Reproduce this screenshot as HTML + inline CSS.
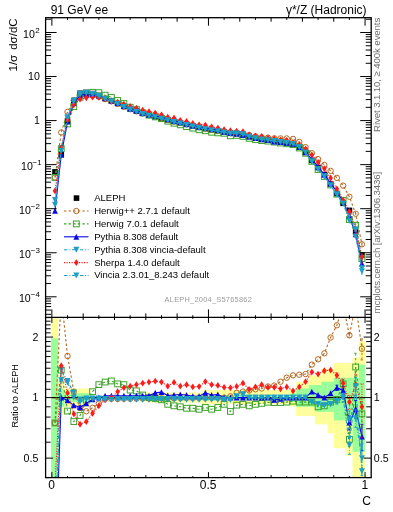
<!DOCTYPE html><html><head><meta charset="utf-8"><style>html,body{margin:0;padding:0;background:#fff;width:393px;height:512px;overflow:hidden}svg{display:block}text{font-family:"Liberation Sans",sans-serif}svg{will-change:transform}</style></head><body>
<svg width="393" height="512" viewBox="0 0 393 512">
<defs><clipPath id="cm"><rect x="45.6" y="17.7" width="325.6" height="299.7"/></clipPath><clipPath id="cr"><rect x="45.6" y="317.4" width="325.6" height="160.2"/></clipPath></defs>
<g clip-path="url(#cr)">
<rect x="51" y="196.6" width="7.18" height="603" fill="#ffff99"/>
<rect x="58.13" y="381.68" width="6.31" height="33.24" fill="#ffff99"/>
<rect x="64.39" y="388.49" width="6.31" height="18.31" fill="#ffff99"/>
<rect x="70.66" y="388.49" width="6.31" height="18.31" fill="#ffff99"/>
<rect x="76.92" y="388.49" width="6.31" height="18.31" fill="#ffff99"/>
<rect x="83.18" y="388.49" width="6.31" height="18.31" fill="#ffff99"/>
<rect x="89.45" y="395.44" width="6.31" height="4.37" fill="#ffff99"/>
<rect x="95.71" y="395.44" width="6.31" height="4.37" fill="#ffff99"/>
<rect x="101.98" y="395.44" width="6.31" height="4.37" fill="#ffff99"/>
<rect x="108.24" y="395.44" width="6.31" height="4.37" fill="#ffff99"/>
<rect x="114.5" y="395.44" width="6.31" height="4.37" fill="#ffff99"/>
<rect x="120.77" y="395.44" width="6.31" height="4.37" fill="#ffff99"/>
<rect x="127.03" y="395.44" width="6.31" height="4.37" fill="#ffff99"/>
<rect x="133.3" y="395.44" width="6.31" height="4.37" fill="#ffff99"/>
<rect x="139.56" y="395.44" width="6.31" height="4.37" fill="#ffff99"/>
<rect x="145.82" y="392.51" width="6.31" height="10.02" fill="#ffff99"/>
<rect x="152.09" y="392.51" width="6.31" height="10.02" fill="#ffff99"/>
<rect x="158.35" y="392.51" width="6.31" height="10.02" fill="#ffff99"/>
<rect x="164.62" y="392.51" width="6.31" height="10.02" fill="#ffff99"/>
<rect x="170.88" y="392.51" width="6.31" height="10.02" fill="#ffff99"/>
<rect x="177.14" y="392.51" width="6.31" height="10.02" fill="#ffff99"/>
<rect x="183.41" y="392.51" width="6.31" height="10.02" fill="#ffff99"/>
<rect x="189.67" y="392.51" width="6.31" height="10.02" fill="#ffff99"/>
<rect x="195.94" y="392.51" width="6.31" height="10.02" fill="#ffff99"/>
<rect x="202.2" y="390.08" width="6.31" height="13.86" fill="#ffff99"/>
<rect x="208.46" y="390.08" width="6.31" height="13.86" fill="#ffff99"/>
<rect x="214.73" y="390.08" width="6.31" height="13.86" fill="#ffff99"/>
<rect x="220.99" y="390.08" width="6.31" height="13.86" fill="#ffff99"/>
<rect x="227.26" y="390.08" width="6.31" height="13.86" fill="#ffff99"/>
<rect x="233.52" y="390.08" width="6.31" height="13.86" fill="#ffff99"/>
<rect x="239.78" y="390.08" width="6.31" height="13.86" fill="#ffff99"/>
<rect x="246.05" y="390.08" width="6.31" height="13.86" fill="#ffff99"/>
<rect x="252.31" y="390.08" width="6.31" height="13.86" fill="#ffff99"/>
<rect x="258.58" y="390.08" width="6.31" height="13.86" fill="#ffff99"/>
<rect x="264.84" y="390.08" width="6.31" height="13.86" fill="#ffff99"/>
<rect x="271.1" y="390.08" width="6.31" height="13.86" fill="#ffff99"/>
<rect x="277.37" y="390.08" width="6.31" height="13.86" fill="#ffff99"/>
<rect x="283.63" y="390.08" width="6.31" height="13.86" fill="#ffff99"/>
<rect x="289.9" y="389.28" width="6.31" height="17.13" fill="#ffff99"/>
<rect x="296.16" y="381.83" width="6.31" height="34.16" fill="#ffff99"/>
<rect x="302.42" y="381.83" width="6.31" height="34.16" fill="#ffff99"/>
<rect x="308.69" y="375.37" width="6.31" height="40.62" fill="#ffff99"/>
<rect x="314.95" y="375.37" width="6.31" height="48.99" fill="#ffff99"/>
<rect x="321.22" y="369.17" width="6.31" height="55.19" fill="#ffff99"/>
<rect x="327.48" y="369.17" width="6.31" height="64.04" fill="#ffff99"/>
<rect x="333.74" y="362.97" width="6.31" height="85.25" fill="#ffff99"/>
<rect x="340.01" y="362.97" width="6.31" height="85.25" fill="#ffff99"/>
<rect x="346.27" y="362.97" width="6.31" height="92.9" fill="#ffff99"/>
<rect x="352.54" y="357.67" width="6.31" height="145.03" fill="#ffff99"/>
<rect x="358.8" y="341.57" width="6.31" height="458.03" fill="#ffff99"/>
<rect x="51" y="338.41" width="7.18" height="461.19" fill="#99ff99"/>
<rect x="58.13" y="389.28" width="6.31" height="17.52" fill="#99ff99"/>
<rect x="64.39" y="393.34" width="6.31" height="8.74" fill="#99ff99"/>
<rect x="70.66" y="393.34" width="6.31" height="8.74" fill="#99ff99"/>
<rect x="76.92" y="393.34" width="6.31" height="8.74" fill="#99ff99"/>
<rect x="83.18" y="393.34" width="6.31" height="8.74" fill="#99ff99"/>
<rect x="89.45" y="396.73" width="6.31" height="1.75" fill="#99ff99"/>
<rect x="95.71" y="396.73" width="6.31" height="1.75" fill="#99ff99"/>
<rect x="101.98" y="396.73" width="6.31" height="1.75" fill="#99ff99"/>
<rect x="108.24" y="396.73" width="6.31" height="1.75" fill="#99ff99"/>
<rect x="114.5" y="396.73" width="6.31" height="1.75" fill="#99ff99"/>
<rect x="120.77" y="396.73" width="6.31" height="1.75" fill="#99ff99"/>
<rect x="127.03" y="396.73" width="6.31" height="1.75" fill="#99ff99"/>
<rect x="133.3" y="396.73" width="6.31" height="1.75" fill="#99ff99"/>
<rect x="139.56" y="396.73" width="6.31" height="1.75" fill="#99ff99"/>
<rect x="145.82" y="395.87" width="6.31" height="3.49" fill="#99ff99"/>
<rect x="152.09" y="395.87" width="6.31" height="3.49" fill="#99ff99"/>
<rect x="158.35" y="395.87" width="6.31" height="3.49" fill="#99ff99"/>
<rect x="164.62" y="395.87" width="6.31" height="3.49" fill="#99ff99"/>
<rect x="170.88" y="395.87" width="6.31" height="3.49" fill="#99ff99"/>
<rect x="177.14" y="395.87" width="6.31" height="3.49" fill="#99ff99"/>
<rect x="183.41" y="395.87" width="6.31" height="3.49" fill="#99ff99"/>
<rect x="189.67" y="395.87" width="6.31" height="3.49" fill="#99ff99"/>
<rect x="195.94" y="395.87" width="6.31" height="3.49" fill="#99ff99"/>
<rect x="202.2" y="395.02" width="6.31" height="5.24" fill="#99ff99"/>
<rect x="208.46" y="395.02" width="6.31" height="5.24" fill="#99ff99"/>
<rect x="214.73" y="395.02" width="6.31" height="5.24" fill="#99ff99"/>
<rect x="220.99" y="395.02" width="6.31" height="5.24" fill="#99ff99"/>
<rect x="227.26" y="395.02" width="6.31" height="5.24" fill="#99ff99"/>
<rect x="233.52" y="395.02" width="6.31" height="5.24" fill="#99ff99"/>
<rect x="239.78" y="395.02" width="6.31" height="5.24" fill="#99ff99"/>
<rect x="246.05" y="395.02" width="6.31" height="5.24" fill="#99ff99"/>
<rect x="252.31" y="395.02" width="6.31" height="5.24" fill="#99ff99"/>
<rect x="258.58" y="395.02" width="6.31" height="5.24" fill="#99ff99"/>
<rect x="264.84" y="395.02" width="6.31" height="5.24" fill="#99ff99"/>
<rect x="271.1" y="395.02" width="6.31" height="5.24" fill="#99ff99"/>
<rect x="277.37" y="395.02" width="6.31" height="5.24" fill="#99ff99"/>
<rect x="283.63" y="395.02" width="6.31" height="5.24" fill="#99ff99"/>
<rect x="289.9" y="393.34" width="6.31" height="8.74" fill="#99ff99"/>
<rect x="296.16" y="388.49" width="6.31" height="18.31" fill="#99ff99"/>
<rect x="302.42" y="388.49" width="6.31" height="18.31" fill="#99ff99"/>
<rect x="308.69" y="385.02" width="6.31" height="21.78" fill="#99ff99"/>
<rect x="314.95" y="385.02" width="6.31" height="26.77" fill="#99ff99"/>
<rect x="321.22" y="381.68" width="6.31" height="30.1" fill="#99ff99"/>
<rect x="327.48" y="381.68" width="6.31" height="30.1" fill="#99ff99"/>
<rect x="333.74" y="377.7" width="6.31" height="42.71" fill="#99ff99"/>
<rect x="340.01" y="377.7" width="6.31" height="42.71" fill="#99ff99"/>
<rect x="346.27" y="377.7" width="6.31" height="42.71" fill="#99ff99"/>
<rect x="352.54" y="377.7" width="6.31" height="74.17" fill="#99ff99"/>
<rect x="358.8" y="364.57" width="6.31" height="87.31" fill="#99ff99"/>
<line x1="51.86" y1="397.6" x2="365.06" y2="397.6" stroke="#000" stroke-width="1.4"/>
<polyline points="55,422.95 61.26,296.06 67.52,356.03 73.79,391.69 80.05,407.97 86.32,411.27 92.58,407.77 98.84,403.47 105.11,398.92 111.37,398.92 117.64,398.92 123.9,398.83 130.16,398.74 136.43,398.65 142.69,398.57 148.96,398.48 155.22,398.4 161.48,398.33 167.75,398.26 174.01,398.18 180.28,398.11 186.54,398.04 192.8,397.96 199.07,397.89 205.33,397.82 211.6,397.75 217.86,397.67 224.12,397.6 230.39,396.3 236.65,392.84 242.92,391.53 249.18,390.48 255.44,389.28 261.71,388.49 267.97,386.47 274.24,385.55 280.5,381.68 286.76,377.7 293.03,375.37 299.29,374.7 305.56,374.03 311.82,364.57 318.08,359.34 324.35,353.36 330.61,337.53 336.88,325.27 343.14,304.66 349.4,335.36 355.67,304.66 361.93,348.75" fill="none" stroke="#b5651d" stroke-width="1.1" stroke-dasharray="2.4 2.2"/>
<circle cx="55" cy="422.95" r="2.7" fill="none" stroke="#b5651d" stroke-width="1.0"/>
<circle cx="61.26" cy="296.06" r="2.7" fill="none" stroke="#b5651d" stroke-width="1.0"/>
<circle cx="67.52" cy="356.03" r="2.7" fill="none" stroke="#b5651d" stroke-width="1.0"/>
<circle cx="73.79" cy="391.69" r="2.7" fill="none" stroke="#b5651d" stroke-width="1.0"/>
<circle cx="80.05" cy="407.97" r="2.7" fill="none" stroke="#b5651d" stroke-width="1.0"/>
<circle cx="86.32" cy="411.27" r="2.7" fill="none" stroke="#b5651d" stroke-width="1.0"/>
<circle cx="92.58" cy="407.77" r="2.7" fill="none" stroke="#b5651d" stroke-width="1.0"/>
<circle cx="98.84" cy="403.47" r="2.7" fill="none" stroke="#b5651d" stroke-width="1.0"/>
<circle cx="105.11" cy="398.92" r="2.7" fill="none" stroke="#b5651d" stroke-width="1.0"/>
<circle cx="111.37" cy="398.92" r="2.7" fill="none" stroke="#b5651d" stroke-width="1.0"/>
<circle cx="117.64" cy="398.92" r="2.7" fill="none" stroke="#b5651d" stroke-width="1.0"/>
<circle cx="123.9" cy="398.83" r="2.7" fill="none" stroke="#b5651d" stroke-width="1.0"/>
<circle cx="130.16" cy="398.74" r="2.7" fill="none" stroke="#b5651d" stroke-width="1.0"/>
<circle cx="136.43" cy="398.65" r="2.7" fill="none" stroke="#b5651d" stroke-width="1.0"/>
<circle cx="142.69" cy="398.57" r="2.7" fill="none" stroke="#b5651d" stroke-width="1.0"/>
<circle cx="148.96" cy="398.48" r="2.7" fill="none" stroke="#b5651d" stroke-width="1.0"/>
<circle cx="155.22" cy="398.4" r="2.7" fill="none" stroke="#b5651d" stroke-width="1.0"/>
<circle cx="161.48" cy="398.33" r="2.7" fill="none" stroke="#b5651d" stroke-width="1.0"/>
<circle cx="167.75" cy="398.26" r="2.7" fill="none" stroke="#b5651d" stroke-width="1.0"/>
<circle cx="174.01" cy="398.18" r="2.7" fill="none" stroke="#b5651d" stroke-width="1.0"/>
<circle cx="180.28" cy="398.11" r="2.7" fill="none" stroke="#b5651d" stroke-width="1.0"/>
<circle cx="186.54" cy="398.04" r="2.7" fill="none" stroke="#b5651d" stroke-width="1.0"/>
<circle cx="192.8" cy="397.96" r="2.7" fill="none" stroke="#b5651d" stroke-width="1.0"/>
<circle cx="199.07" cy="397.89" r="2.7" fill="none" stroke="#b5651d" stroke-width="1.0"/>
<circle cx="205.33" cy="397.82" r="2.7" fill="none" stroke="#b5651d" stroke-width="1.0"/>
<circle cx="211.6" cy="397.75" r="2.7" fill="none" stroke="#b5651d" stroke-width="1.0"/>
<circle cx="217.86" cy="397.67" r="2.7" fill="none" stroke="#b5651d" stroke-width="1.0"/>
<circle cx="224.12" cy="397.6" r="2.7" fill="none" stroke="#b5651d" stroke-width="1.0"/>
<circle cx="230.39" cy="396.3" r="2.7" fill="none" stroke="#b5651d" stroke-width="1.0"/>
<circle cx="236.65" cy="392.84" r="2.7" fill="none" stroke="#b5651d" stroke-width="1.0"/>
<circle cx="242.92" cy="391.53" r="2.7" fill="none" stroke="#b5651d" stroke-width="1.0"/>
<circle cx="249.18" cy="390.48" r="2.7" fill="none" stroke="#b5651d" stroke-width="1.0"/>
<circle cx="255.44" cy="389.28" r="2.7" fill="none" stroke="#b5651d" stroke-width="1.0"/>
<circle cx="261.71" cy="388.49" r="2.7" fill="none" stroke="#b5651d" stroke-width="1.0"/>
<circle cx="267.97" cy="386.47" r="2.7" fill="none" stroke="#b5651d" stroke-width="1.0"/>
<circle cx="274.24" cy="385.55" r="2.7" fill="none" stroke="#b5651d" stroke-width="1.0"/>
<circle cx="280.5" cy="381.68" r="2.7" fill="none" stroke="#b5651d" stroke-width="1.0"/>
<circle cx="286.76" cy="377.7" r="2.7" fill="none" stroke="#b5651d" stroke-width="1.0"/>
<circle cx="293.03" cy="375.37" r="2.7" fill="none" stroke="#b5651d" stroke-width="1.0"/>
<circle cx="299.29" cy="374.7" r="2.7" fill="none" stroke="#b5651d" stroke-width="1.0"/>
<circle cx="305.56" cy="374.03" r="2.7" fill="none" stroke="#b5651d" stroke-width="1.0"/>
<circle cx="311.82" cy="364.57" r="2.7" fill="none" stroke="#b5651d" stroke-width="1.0"/>
<circle cx="318.08" cy="359.34" r="2.7" fill="none" stroke="#b5651d" stroke-width="1.0"/>
<circle cx="324.35" cy="353.36" r="2.7" fill="none" stroke="#b5651d" stroke-width="1.0"/>
<circle cx="330.61" cy="337.53" r="2.7" fill="none" stroke="#b5651d" stroke-width="1.0"/>
<circle cx="336.88" cy="325.27" r="2.7" fill="none" stroke="#b5651d" stroke-width="1.0"/>
<circle cx="343.14" cy="304.66" r="2.7" fill="none" stroke="#b5651d" stroke-width="1.0"/>
<path d="M349.4 333.64V337.13M347.9 333.64H350.9M347.9 337.13H350.9" stroke="#b5651d" stroke-width="0.9" fill="none" stroke-dasharray="2.4 2.2"/>
<circle cx="349.4" cy="335.36" r="2.7" fill="none" stroke="#b5651d" stroke-width="1.0"/>
<path d="M355.67 299.57V310.06M354.17 299.57H357.17M354.17 310.06H357.17" stroke="#b5651d" stroke-width="0.9" fill="none" stroke-dasharray="2.4 2.2"/>
<circle cx="355.67" cy="304.66" r="2.7" fill="none" stroke="#b5651d" stroke-width="1.0"/>
<path d="M361.93 338.86V359.91M360.43 338.86H363.43M360.43 359.91H363.43" stroke="#b5651d" stroke-width="0.9" fill="none" stroke-dasharray="2.4 2.2"/>
<circle cx="361.93" cy="348.75" r="2.7" fill="none" stroke="#b5651d" stroke-width="1.0"/>
<polyline points="55,422.95 61.26,370.12 67.52,411.07 73.79,421.56 80.05,415.46 86.32,400.26 92.58,391.69 98.84,384.64 105.11,382.05 111.37,380.96 117.64,383.89 123.9,384.64 130.16,390.08 136.43,390.88 142.69,395.02 148.96,397.6 155.22,398.48 161.48,399.81 167.75,404.31 174.01,405.83 180.28,406.8 186.54,408.26 192.8,408.26 199.07,409.26 205.33,407.48 211.6,409.26 217.86,407.48 224.12,404.31 230.39,411.48 236.65,405.16 242.92,404.31 249.18,405.83 255.44,404.31 261.71,403.37 267.97,402.26 274.24,402.54 280.5,402.54 286.76,402.08 293.03,401.16 299.29,402.08 305.56,402.08 311.82,402.08 318.08,406.8 324.35,405.83 330.61,402.08 336.88,399.36 343.14,383.89 349.4,439.33 355.67,366.99 361.93,413.87" fill="none" stroke="#3da32a" stroke-width="1.1" stroke-dasharray="2.4 2.2"/>
<rect x="52.1" y="420.05" width="5.8" height="5.8" fill="none" stroke="#3da32a" stroke-width="1.0"/>
<rect x="58.36" y="367.22" width="5.8" height="5.8" fill="none" stroke="#3da32a" stroke-width="1.0"/>
<rect x="64.62" y="408.17" width="5.8" height="5.8" fill="none" stroke="#3da32a" stroke-width="1.0"/>
<rect x="70.89" y="418.66" width="5.8" height="5.8" fill="none" stroke="#3da32a" stroke-width="1.0"/>
<rect x="77.15" y="412.56" width="5.8" height="5.8" fill="none" stroke="#3da32a" stroke-width="1.0"/>
<rect x="83.42" y="397.36" width="5.8" height="5.8" fill="none" stroke="#3da32a" stroke-width="1.0"/>
<rect x="89.68" y="388.79" width="5.8" height="5.8" fill="none" stroke="#3da32a" stroke-width="1.0"/>
<rect x="95.94" y="381.74" width="5.8" height="5.8" fill="none" stroke="#3da32a" stroke-width="1.0"/>
<rect x="102.21" y="379.15" width="5.8" height="5.8" fill="none" stroke="#3da32a" stroke-width="1.0"/>
<rect x="108.47" y="378.06" width="5.8" height="5.8" fill="none" stroke="#3da32a" stroke-width="1.0"/>
<rect x="114.74" y="380.99" width="5.8" height="5.8" fill="none" stroke="#3da32a" stroke-width="1.0"/>
<rect x="121" y="381.74" width="5.8" height="5.8" fill="none" stroke="#3da32a" stroke-width="1.0"/>
<rect x="127.26" y="387.18" width="5.8" height="5.8" fill="none" stroke="#3da32a" stroke-width="1.0"/>
<rect x="133.53" y="387.98" width="5.8" height="5.8" fill="none" stroke="#3da32a" stroke-width="1.0"/>
<rect x="139.79" y="392.12" width="5.8" height="5.8" fill="none" stroke="#3da32a" stroke-width="1.0"/>
<rect x="146.06" y="394.7" width="5.8" height="5.8" fill="none" stroke="#3da32a" stroke-width="1.0"/>
<rect x="152.32" y="395.58" width="5.8" height="5.8" fill="none" stroke="#3da32a" stroke-width="1.0"/>
<rect x="158.58" y="396.91" width="5.8" height="5.8" fill="none" stroke="#3da32a" stroke-width="1.0"/>
<rect x="164.85" y="401.41" width="5.8" height="5.8" fill="none" stroke="#3da32a" stroke-width="1.0"/>
<rect x="171.11" y="402.93" width="5.8" height="5.8" fill="none" stroke="#3da32a" stroke-width="1.0"/>
<rect x="177.38" y="403.9" width="5.8" height="5.8" fill="none" stroke="#3da32a" stroke-width="1.0"/>
<rect x="183.64" y="405.36" width="5.8" height="5.8" fill="none" stroke="#3da32a" stroke-width="1.0"/>
<rect x="189.9" y="405.36" width="5.8" height="5.8" fill="none" stroke="#3da32a" stroke-width="1.0"/>
<rect x="196.17" y="406.36" width="5.8" height="5.8" fill="none" stroke="#3da32a" stroke-width="1.0"/>
<rect x="202.43" y="404.58" width="5.8" height="5.8" fill="none" stroke="#3da32a" stroke-width="1.0"/>
<rect x="208.7" y="406.36" width="5.8" height="5.8" fill="none" stroke="#3da32a" stroke-width="1.0"/>
<rect x="214.96" y="404.58" width="5.8" height="5.8" fill="none" stroke="#3da32a" stroke-width="1.0"/>
<rect x="221.22" y="401.41" width="5.8" height="5.8" fill="none" stroke="#3da32a" stroke-width="1.0"/>
<rect x="227.49" y="408.58" width="5.8" height="5.8" fill="none" stroke="#3da32a" stroke-width="1.0"/>
<rect x="233.75" y="402.26" width="5.8" height="5.8" fill="none" stroke="#3da32a" stroke-width="1.0"/>
<rect x="240.02" y="401.41" width="5.8" height="5.8" fill="none" stroke="#3da32a" stroke-width="1.0"/>
<rect x="246.28" y="402.93" width="5.8" height="5.8" fill="none" stroke="#3da32a" stroke-width="1.0"/>
<rect x="252.54" y="401.41" width="5.8" height="5.8" fill="none" stroke="#3da32a" stroke-width="1.0"/>
<rect x="258.81" y="400.47" width="5.8" height="5.8" fill="none" stroke="#3da32a" stroke-width="1.0"/>
<rect x="265.07" y="399.36" width="5.8" height="5.8" fill="none" stroke="#3da32a" stroke-width="1.0"/>
<rect x="271.34" y="399.64" width="5.8" height="5.8" fill="none" stroke="#3da32a" stroke-width="1.0"/>
<rect x="277.6" y="399.64" width="5.8" height="5.8" fill="none" stroke="#3da32a" stroke-width="1.0"/>
<rect x="283.86" y="399.18" width="5.8" height="5.8" fill="none" stroke="#3da32a" stroke-width="1.0"/>
<rect x="290.13" y="398.26" width="5.8" height="5.8" fill="none" stroke="#3da32a" stroke-width="1.0"/>
<rect x="296.39" y="399.18" width="5.8" height="5.8" fill="none" stroke="#3da32a" stroke-width="1.0"/>
<rect x="302.66" y="399.18" width="5.8" height="5.8" fill="none" stroke="#3da32a" stroke-width="1.0"/>
<rect x="308.92" y="399.18" width="5.8" height="5.8" fill="none" stroke="#3da32a" stroke-width="1.0"/>
<rect x="315.18" y="403.9" width="5.8" height="5.8" fill="none" stroke="#3da32a" stroke-width="1.0"/>
<rect x="321.45" y="402.93" width="5.8" height="5.8" fill="none" stroke="#3da32a" stroke-width="1.0"/>
<rect x="327.71" y="399.18" width="5.8" height="5.8" fill="none" stroke="#3da32a" stroke-width="1.0"/>
<path d="M336.88 396.78V402.02M335.38 396.78H338.38M335.38 402.02H338.38" stroke="#3da32a" stroke-width="0.9" fill="none" stroke-dasharray="2.4 2.2"/>
<rect x="333.98" y="396.46" width="5.8" height="5.8" fill="none" stroke="#3da32a" stroke-width="1.0"/>
<path d="M343.14 379.64V388.37M341.64 379.64H344.64M341.64 388.37H344.64" stroke="#3da32a" stroke-width="0.9" fill="none" stroke-dasharray="2.4 2.2"/>
<rect x="340.24" y="380.99" width="5.8" height="5.8" fill="none" stroke="#3da32a" stroke-width="1.0"/>
<path d="M349.4 432.61V446.61M347.9 432.61H350.9M347.9 446.61H350.9" stroke="#3da32a" stroke-width="0.9" fill="none" stroke-dasharray="2.4 2.2"/>
<rect x="346.5" y="436.43" width="5.8" height="5.8" fill="none" stroke="#3da32a" stroke-width="1.0"/>
<path d="M355.67 353.28V383.26M354.17 353.28H357.17M354.17 383.26H357.17" stroke="#3da32a" stroke-width="0.9" fill="none" stroke-dasharray="2.4 2.2"/>
<rect x="352.77" y="364.09" width="5.8" height="5.8" fill="none" stroke="#3da32a" stroke-width="1.0"/>
<path d="M361.93 401.67V428.05M360.43 401.67H363.43M360.43 428.05H363.43" stroke="#3da32a" stroke-width="0.9" fill="none" stroke-dasharray="2.4 2.2"/>
<rect x="359.03" y="410.97" width="5.8" height="5.8" fill="none" stroke="#3da32a" stroke-width="1.0"/>
<polyline points="55,575.7 61.26,397.6 67.52,400.44 73.79,405.35 80.05,407.28 86.32,403.37 92.58,399.36 98.84,397.6 105.11,395.87 111.37,395.87 117.64,395.87 123.9,395.87 130.16,395.87 136.43,395.87 142.69,395.87 148.96,395.87 155.22,392.84 161.48,392.18 167.75,395.44 174.01,395.02 180.28,394.51 186.54,395.02 192.8,396.3 199.07,396.3 205.33,392.84 211.6,395.02 217.86,394.6 224.12,397.6 230.39,397.6 236.65,397.6 242.92,397.6 249.18,397.6 255.44,397.6 261.71,397.6 267.97,397.6 274.24,399.81 280.5,398.92 286.76,397.6 293.03,397.6 299.29,397.6 305.56,397.6 311.82,391.69 318.08,395.02 324.35,397.6 330.61,393.34 336.88,387.71 343.14,390.48 349.4,422.71 355.67,408.76 361.93,436.56" fill="none" stroke="#0808ea" stroke-width="1.1"/>
<path d="M55 572.7L57.9 578.6L52.1 578.6Z" fill="#0808ea"/>
<path d="M61.26 394.6L64.16 400.5L58.36 400.5Z" fill="#0808ea"/>
<path d="M67.52 397.44L70.42 403.34L64.62 403.34Z" fill="#0808ea"/>
<path d="M73.79 402.35L76.69 408.25L70.89 408.25Z" fill="#0808ea"/>
<path d="M80.05 404.28L82.95 410.18L77.15 410.18Z" fill="#0808ea"/>
<path d="M86.32 400.37L89.22 406.27L83.42 406.27Z" fill="#0808ea"/>
<path d="M92.58 396.36L95.48 402.26L89.68 402.26Z" fill="#0808ea"/>
<path d="M98.84 394.6L101.74 400.5L95.94 400.5Z" fill="#0808ea"/>
<path d="M105.11 392.87L108.01 398.77L102.21 398.77Z" fill="#0808ea"/>
<path d="M111.37 392.87L114.27 398.77L108.47 398.77Z" fill="#0808ea"/>
<path d="M117.64 392.87L120.54 398.77L114.74 398.77Z" fill="#0808ea"/>
<path d="M123.9 392.87L126.8 398.77L121 398.77Z" fill="#0808ea"/>
<path d="M130.16 392.87L133.06 398.77L127.26 398.77Z" fill="#0808ea"/>
<path d="M136.43 392.87L139.33 398.77L133.53 398.77Z" fill="#0808ea"/>
<path d="M142.69 392.87L145.59 398.77L139.79 398.77Z" fill="#0808ea"/>
<path d="M148.96 392.87L151.86 398.77L146.06 398.77Z" fill="#0808ea"/>
<path d="M155.22 389.84L158.12 395.74L152.32 395.74Z" fill="#0808ea"/>
<path d="M161.48 389.18L164.38 395.08L158.58 395.08Z" fill="#0808ea"/>
<path d="M167.75 392.44L170.65 398.34L164.85 398.34Z" fill="#0808ea"/>
<path d="M174.01 392.02L176.91 397.92L171.11 397.92Z" fill="#0808ea"/>
<path d="M180.28 391.51L183.18 397.41L177.38 397.41Z" fill="#0808ea"/>
<path d="M186.54 392.02L189.44 397.92L183.64 397.92Z" fill="#0808ea"/>
<path d="M192.8 393.3L195.7 399.2L189.9 399.2Z" fill="#0808ea"/>
<path d="M199.07 393.3L201.97 399.2L196.17 399.2Z" fill="#0808ea"/>
<path d="M205.33 389.84L208.23 395.74L202.43 395.74Z" fill="#0808ea"/>
<path d="M211.6 392.02L214.5 397.92L208.7 397.92Z" fill="#0808ea"/>
<path d="M217.86 391.6L220.76 397.5L214.96 397.5Z" fill="#0808ea"/>
<path d="M224.12 394.6L227.02 400.5L221.22 400.5Z" fill="#0808ea"/>
<path d="M230.39 394.6L233.29 400.5L227.49 400.5Z" fill="#0808ea"/>
<path d="M236.65 394.6L239.55 400.5L233.75 400.5Z" fill="#0808ea"/>
<path d="M242.92 394.6L245.82 400.5L240.02 400.5Z" fill="#0808ea"/>
<path d="M249.18 394.6L252.08 400.5L246.28 400.5Z" fill="#0808ea"/>
<path d="M255.44 394.6L258.34 400.5L252.54 400.5Z" fill="#0808ea"/>
<path d="M261.71 394.6L264.61 400.5L258.81 400.5Z" fill="#0808ea"/>
<path d="M267.97 394.6L270.87 400.5L265.07 400.5Z" fill="#0808ea"/>
<path d="M274.24 396.81L277.14 402.71L271.34 402.71Z" fill="#0808ea"/>
<path d="M280.5 395.92L283.4 401.82L277.6 401.82Z" fill="#0808ea"/>
<path d="M286.76 394.6L289.66 400.5L283.86 400.5Z" fill="#0808ea"/>
<path d="M293.03 394.6L295.93 400.5L290.13 400.5Z" fill="#0808ea"/>
<path d="M299.29 394.6L302.19 400.5L296.39 400.5Z" fill="#0808ea"/>
<path d="M305.56 394.6L308.46 400.5L302.66 400.5Z" fill="#0808ea"/>
<path d="M311.82 388.69L314.72 394.59L308.92 394.59Z" fill="#0808ea"/>
<path d="M318.08 392.02L320.98 397.92L315.18 397.92Z" fill="#0808ea"/>
<path d="M324.35 394.6L327.25 400.5L321.45 400.5Z" fill="#0808ea"/>
<path d="M330.61 390.34L333.51 396.24L327.71 396.24Z" fill="#0808ea"/>
<path d="M336.88 385.13V390.37M335.38 385.13H338.38M335.38 390.37H338.38" stroke="#0808ea" stroke-width="0.9" fill="none"/>
<path d="M336.88 384.71L339.78 390.61L333.98 390.61Z" fill="#0808ea"/>
<path d="M343.14 386.22V394.96M341.64 386.22H344.64M341.64 394.96H344.64" stroke="#0808ea" stroke-width="0.9" fill="none"/>
<path d="M343.14 387.48L346.04 393.38L340.24 393.38Z" fill="#0808ea"/>
<path d="M349.4 415.99V429.99M347.9 415.99H350.9M347.9 429.99H350.9" stroke="#0808ea" stroke-width="0.9" fill="none"/>
<path d="M349.4 419.71L352.3 425.61L346.5 425.61Z" fill="#0808ea"/>
<path d="M355.67 400.44V417.96M354.17 400.44H357.17M354.17 417.96H357.17" stroke="#0808ea" stroke-width="0.9" fill="none"/>
<path d="M355.67 405.76L358.57 411.66L352.77 411.66Z" fill="#0808ea"/>
<path d="M361.93 424.36V450.74M360.43 424.36H363.43M360.43 450.74H363.43" stroke="#0808ea" stroke-width="0.9" fill="none"/>
<path d="M361.93 433.56L364.83 439.46L359.03 439.46Z" fill="#0808ea"/>
<polyline points="55,525.89 61.26,369.8 67.52,380.96 73.79,392.51 80.05,399.36 86.32,398.48 92.58,398.48 98.84,398.48 105.11,398.92 111.37,398.92 117.64,398.92 123.9,398.92 130.16,398.92 136.43,398.92 142.69,398.92 148.96,398.92 155.22,398.92 161.48,398.92 167.75,398.92 174.01,398.92 180.28,398.92 186.54,398.92 192.8,398.92 199.07,398.92 205.33,398.92 211.6,398.92 217.86,398.92 224.12,399.36 230.39,399.81 236.65,396.3 242.92,394.51 249.18,397.6 255.44,397.6 261.71,397.6 267.97,397.6 274.24,397.6 280.5,397.6 286.76,397.6 293.03,397.6 299.29,397.6 305.56,397.6 311.82,402.08 318.08,403.93 324.35,405.35 330.61,403.93 336.88,401.16 343.14,397.6 349.4,419.29 355.67,418.18 361.93,458.11" fill="none" stroke="#1e9fc6" stroke-width="1.1" stroke-dasharray="3.6 1.8 0.9 1.6"/>
<path d="M52 522.99L58 522.99L55 528.89Z" fill="#1e9fc6"/>
<path d="M58.26 366.9L64.26 366.9L61.26 372.8Z" fill="#1e9fc6"/>
<path d="M64.52 378.06L70.52 378.06L67.52 383.96Z" fill="#1e9fc6"/>
<path d="M70.79 389.61L76.79 389.61L73.79 395.51Z" fill="#1e9fc6"/>
<path d="M77.05 396.46L83.05 396.46L80.05 402.36Z" fill="#1e9fc6"/>
<path d="M83.32 395.58L89.32 395.58L86.32 401.48Z" fill="#1e9fc6"/>
<path d="M89.58 395.58L95.58 395.58L92.58 401.48Z" fill="#1e9fc6"/>
<path d="M95.84 395.58L101.84 395.58L98.84 401.48Z" fill="#1e9fc6"/>
<path d="M102.11 396.02L108.11 396.02L105.11 401.92Z" fill="#1e9fc6"/>
<path d="M108.37 396.02L114.37 396.02L111.37 401.92Z" fill="#1e9fc6"/>
<path d="M114.64 396.02L120.64 396.02L117.64 401.92Z" fill="#1e9fc6"/>
<path d="M120.9 396.02L126.9 396.02L123.9 401.92Z" fill="#1e9fc6"/>
<path d="M127.16 396.02L133.16 396.02L130.16 401.92Z" fill="#1e9fc6"/>
<path d="M133.43 396.02L139.43 396.02L136.43 401.92Z" fill="#1e9fc6"/>
<path d="M139.69 396.02L145.69 396.02L142.69 401.92Z" fill="#1e9fc6"/>
<path d="M145.96 396.02L151.96 396.02L148.96 401.92Z" fill="#1e9fc6"/>
<path d="M152.22 396.02L158.22 396.02L155.22 401.92Z" fill="#1e9fc6"/>
<path d="M158.48 396.02L164.48 396.02L161.48 401.92Z" fill="#1e9fc6"/>
<path d="M164.75 396.02L170.75 396.02L167.75 401.92Z" fill="#1e9fc6"/>
<path d="M171.01 396.02L177.01 396.02L174.01 401.92Z" fill="#1e9fc6"/>
<path d="M177.28 396.02L183.28 396.02L180.28 401.92Z" fill="#1e9fc6"/>
<path d="M183.54 396.02L189.54 396.02L186.54 401.92Z" fill="#1e9fc6"/>
<path d="M189.8 396.02L195.8 396.02L192.8 401.92Z" fill="#1e9fc6"/>
<path d="M196.07 396.02L202.07 396.02L199.07 401.92Z" fill="#1e9fc6"/>
<path d="M202.33 396.02L208.33 396.02L205.33 401.92Z" fill="#1e9fc6"/>
<path d="M208.6 396.02L214.6 396.02L211.6 401.92Z" fill="#1e9fc6"/>
<path d="M214.86 396.02L220.86 396.02L217.86 401.92Z" fill="#1e9fc6"/>
<path d="M221.12 396.46L227.12 396.46L224.12 402.36Z" fill="#1e9fc6"/>
<path d="M227.39 396.91L233.39 396.91L230.39 402.81Z" fill="#1e9fc6"/>
<path d="M233.65 393.4L239.65 393.4L236.65 399.3Z" fill="#1e9fc6"/>
<path d="M239.92 391.61L245.92 391.61L242.92 397.51Z" fill="#1e9fc6"/>
<path d="M246.18 394.7L252.18 394.7L249.18 400.6Z" fill="#1e9fc6"/>
<path d="M252.44 394.7L258.44 394.7L255.44 400.6Z" fill="#1e9fc6"/>
<path d="M258.71 394.7L264.71 394.7L261.71 400.6Z" fill="#1e9fc6"/>
<path d="M264.97 394.7L270.97 394.7L267.97 400.6Z" fill="#1e9fc6"/>
<path d="M271.24 394.7L277.24 394.7L274.24 400.6Z" fill="#1e9fc6"/>
<path d="M277.5 394.7L283.5 394.7L280.5 400.6Z" fill="#1e9fc6"/>
<path d="M283.76 394.7L289.76 394.7L286.76 400.6Z" fill="#1e9fc6"/>
<path d="M290.03 394.7L296.03 394.7L293.03 400.6Z" fill="#1e9fc6"/>
<path d="M296.29 394.7L302.29 394.7L299.29 400.6Z" fill="#1e9fc6"/>
<path d="M302.56 394.7L308.56 394.7L305.56 400.6Z" fill="#1e9fc6"/>
<path d="M308.82 399.18L314.82 399.18L311.82 405.08Z" fill="#1e9fc6"/>
<path d="M315.08 401.03L321.08 401.03L318.08 406.93Z" fill="#1e9fc6"/>
<path d="M321.35 402.45L327.35 402.45L324.35 408.35Z" fill="#1e9fc6"/>
<path d="M327.61 401.03L333.61 401.03L330.61 406.93Z" fill="#1e9fc6"/>
<path d="M336.88 398.58V403.82M335.38 398.58H338.38M335.38 403.82H338.38" stroke="#1e9fc6" stroke-width="0.9" fill="none" stroke-dasharray="3.6 1.8 0.9 1.6"/>
<path d="M333.88 398.26L339.88 398.26L336.88 404.16Z" fill="#1e9fc6"/>
<path d="M343.14 393.34V402.08M341.64 393.34H344.64M341.64 402.08H344.64" stroke="#1e9fc6" stroke-width="0.9" fill="none" stroke-dasharray="3.6 1.8 0.9 1.6"/>
<path d="M340.14 394.7L346.14 394.7L343.14 400.6Z" fill="#1e9fc6"/>
<path d="M349.4 410.97V428.49M347.9 410.97H350.9M347.9 428.49H350.9" stroke="#1e9fc6" stroke-width="0.9" fill="none" stroke-dasharray="3.6 1.8 0.9 1.6"/>
<path d="M346.4 416.39L352.4 416.39L349.4 422.29Z" fill="#1e9fc6"/>
<path d="M355.67 409.86V427.37M354.17 409.86H357.17M354.17 427.37H357.17" stroke="#1e9fc6" stroke-width="0.9" fill="none" stroke-dasharray="3.6 1.8 0.9 1.6"/>
<path d="M352.67 415.28L358.67 415.28L355.67 421.18Z" fill="#1e9fc6"/>
<path d="M361.93 443.66V475.43M360.43 443.66H363.43M360.43 475.43H363.43" stroke="#1e9fc6" stroke-width="0.9" fill="none" stroke-dasharray="3.6 1.8 0.9 1.6"/>
<path d="M358.93 455.21L364.93 455.21L361.93 461.11Z" fill="#1e9fc6"/>
<polyline points="55,484.39 61.26,365.77 67.52,392.93 73.79,413.87 80.05,424.24 86.32,421.56 92.58,413.24 98.84,405.83 105.11,399.81 111.37,397.6 117.64,391.69 123.9,387.71 130.16,386.16 136.43,384.64 142.69,383.15 148.96,382.05 155.22,381.18 161.48,382.05 167.75,386.16 174.01,382.42 180.28,386.16 186.54,384.64 192.8,386.93 199.07,386.55 205.33,381.68 211.6,384.64 217.86,385.4 224.12,387.32 230.39,387.86 236.65,386.47 242.92,383.15 249.18,389.28 255.44,386.93 261.71,384.64 267.97,387.32 274.24,387.32 280.5,388.73 286.76,386.93 293.03,390.88 299.29,386.93 305.56,381.68 311.82,372.05 318.08,374.03 324.35,370.76 330.61,370.12 336.88,375.37 343.14,383.15 349.4,402.08 355.67,384.64 361.93,406.8" fill="none" stroke="#ff1a1a" stroke-width="1.1" stroke-dasharray="1.2 1.3"/>
<path d="M55 480.99L57.3 484.39L55 487.79L52.7 484.39Z" fill="#ff1a1a"/>
<path d="M61.26 362.37L63.56 365.77L61.26 369.17L58.96 365.77Z" fill="#ff1a1a"/>
<path d="M67.52 389.53L69.82 392.93L67.52 396.33L65.22 392.93Z" fill="#ff1a1a"/>
<path d="M73.79 410.47L76.09 413.87L73.79 417.27L71.49 413.87Z" fill="#ff1a1a"/>
<path d="M80.05 420.84L82.35 424.24L80.05 427.64L77.75 424.24Z" fill="#ff1a1a"/>
<path d="M86.32 418.16L88.62 421.56L86.32 424.96L84.02 421.56Z" fill="#ff1a1a"/>
<path d="M92.58 409.84L94.88 413.24L92.58 416.64L90.28 413.24Z" fill="#ff1a1a"/>
<path d="M98.84 402.43L101.14 405.83L98.84 409.23L96.54 405.83Z" fill="#ff1a1a"/>
<path d="M105.11 396.41L107.41 399.81L105.11 403.21L102.81 399.81Z" fill="#ff1a1a"/>
<path d="M111.37 394.2L113.67 397.6L111.37 401L109.07 397.6Z" fill="#ff1a1a"/>
<path d="M117.64 388.29L119.94 391.69L117.64 395.09L115.34 391.69Z" fill="#ff1a1a"/>
<path d="M123.9 384.31L126.2 387.71L123.9 391.11L121.6 387.71Z" fill="#ff1a1a"/>
<path d="M130.16 382.76L132.46 386.16L130.16 389.56L127.86 386.16Z" fill="#ff1a1a"/>
<path d="M136.43 381.24L138.73 384.64L136.43 388.04L134.13 384.64Z" fill="#ff1a1a"/>
<path d="M142.69 379.75L144.99 383.15L142.69 386.55L140.39 383.15Z" fill="#ff1a1a"/>
<path d="M148.96 378.65L151.26 382.05L148.96 385.45L146.66 382.05Z" fill="#ff1a1a"/>
<path d="M155.22 377.78L157.52 381.18L155.22 384.58L152.92 381.18Z" fill="#ff1a1a"/>
<path d="M161.48 378.65L163.78 382.05L161.48 385.45L159.18 382.05Z" fill="#ff1a1a"/>
<path d="M167.75 382.76L170.05 386.16L167.75 389.56L165.45 386.16Z" fill="#ff1a1a"/>
<path d="M174.01 379.02L176.31 382.42L174.01 385.82L171.71 382.42Z" fill="#ff1a1a"/>
<path d="M180.28 382.76L182.58 386.16L180.28 389.56L177.98 386.16Z" fill="#ff1a1a"/>
<path d="M186.54 381.24L188.84 384.64L186.54 388.04L184.24 384.64Z" fill="#ff1a1a"/>
<path d="M192.8 383.53L195.1 386.93L192.8 390.33L190.5 386.93Z" fill="#ff1a1a"/>
<path d="M199.07 383.15L201.37 386.55L199.07 389.95L196.77 386.55Z" fill="#ff1a1a"/>
<path d="M205.33 378.28L207.63 381.68L205.33 385.08L203.03 381.68Z" fill="#ff1a1a"/>
<path d="M211.6 381.24L213.9 384.64L211.6 388.04L209.3 384.64Z" fill="#ff1a1a"/>
<path d="M217.86 382L220.16 385.4L217.86 388.8L215.56 385.4Z" fill="#ff1a1a"/>
<path d="M224.12 383.92L226.42 387.32L224.12 390.72L221.82 387.32Z" fill="#ff1a1a"/>
<path d="M230.39 384.46L232.69 387.86L230.39 391.26L228.09 387.86Z" fill="#ff1a1a"/>
<path d="M236.65 383.07L238.95 386.47L236.65 389.87L234.35 386.47Z" fill="#ff1a1a"/>
<path d="M242.92 379.75L245.22 383.15L242.92 386.55L240.62 383.15Z" fill="#ff1a1a"/>
<path d="M249.18 385.88L251.48 389.28L249.18 392.68L246.88 389.28Z" fill="#ff1a1a"/>
<path d="M255.44 383.53L257.74 386.93L255.44 390.33L253.14 386.93Z" fill="#ff1a1a"/>
<path d="M261.71 381.24L264.01 384.64L261.71 388.04L259.41 384.64Z" fill="#ff1a1a"/>
<path d="M267.97 383.92L270.27 387.32L267.97 390.72L265.67 387.32Z" fill="#ff1a1a"/>
<path d="M274.24 383.92L276.54 387.32L274.24 390.72L271.94 387.32Z" fill="#ff1a1a"/>
<path d="M280.5 385.33L282.8 388.73L280.5 392.13L278.2 388.73Z" fill="#ff1a1a"/>
<path d="M286.76 383.53L289.06 386.93L286.76 390.33L284.46 386.93Z" fill="#ff1a1a"/>
<path d="M293.03 387.48L295.33 390.88L293.03 394.28L290.73 390.88Z" fill="#ff1a1a"/>
<path d="M299.29 383.53L301.59 386.93L299.29 390.33L296.99 386.93Z" fill="#ff1a1a"/>
<path d="M305.56 378.28L307.86 381.68L305.56 385.08L303.26 381.68Z" fill="#ff1a1a"/>
<path d="M311.82 368.65L314.12 372.05L311.82 375.45L309.52 372.05Z" fill="#ff1a1a"/>
<path d="M318.08 370.63L320.38 374.03L318.08 377.43L315.78 374.03Z" fill="#ff1a1a"/>
<path d="M324.35 367.36L326.65 370.76L324.35 374.16L322.05 370.76Z" fill="#ff1a1a"/>
<path d="M330.61 366.72L332.91 370.12L330.61 373.52L328.31 370.12Z" fill="#ff1a1a"/>
<path d="M336.88 372.79V378.03M335.38 372.79H338.38M335.38 378.03H338.38" stroke="#ff1a1a" stroke-width="0.9" fill="none" stroke-dasharray="1.2 1.3"/>
<path d="M336.88 371.97L339.18 375.37L336.88 378.77L334.58 375.37Z" fill="#ff1a1a"/>
<path d="M343.14 378.89V387.63M341.64 378.89H344.64M341.64 387.63H344.64" stroke="#ff1a1a" stroke-width="0.9" fill="none" stroke-dasharray="1.2 1.3"/>
<path d="M343.14 379.75L345.44 383.15L343.14 386.55L340.84 383.15Z" fill="#ff1a1a"/>
<path d="M349.4 395.36V409.36M347.9 395.36H350.9M347.9 409.36H350.9" stroke="#ff1a1a" stroke-width="0.9" fill="none" stroke-dasharray="1.2 1.3"/>
<path d="M349.4 398.68L351.7 402.08L349.4 405.48L347.1 402.08Z" fill="#ff1a1a"/>
<path d="M355.67 374.75V395.8M354.17 374.75H357.17M354.17 395.8H357.17" stroke="#ff1a1a" stroke-width="0.9" fill="none" stroke-dasharray="1.2 1.3"/>
<path d="M355.67 381.24L357.97 384.64L355.67 388.04L353.37 384.64Z" fill="#ff1a1a"/>
<path d="M361.93 383.89V437.93M360.43 383.89H363.43M360.43 437.93H363.43" stroke="#ff1a1a" stroke-width="0.9" fill="none" stroke-dasharray="1.2 1.3"/>
<path d="M361.93 403.4L364.23 406.8L361.93 410.2L359.63 406.8Z" fill="#ff1a1a"/>
<polyline points="55,547.29 61.26,380.24 67.52,382.42 73.79,397.6 80.05,402.08 86.32,398.92 92.58,398.92 98.84,398.92 105.11,399.81 111.37,399.81 117.64,399.81 123.9,399.81 130.16,399.81 136.43,399.81 142.69,399.81 148.96,399.81 155.22,399.81 161.48,399.81 167.75,399.81 174.01,399.81 180.28,399.81 186.54,399.81 192.8,399.81 199.07,399.81 205.33,399.81 211.6,399.81 217.86,399.81 224.12,399.81 230.39,399.81 236.65,396.3 242.92,394.51 249.18,397.6 255.44,397.6 261.71,397.6 267.97,397.6 274.24,397.6 280.5,397.6 286.76,397.6 293.03,397.6 299.29,397.6 305.56,397.6 311.82,402.08 318.08,403.93 324.35,405.35 330.61,403.93 336.88,401.16 343.14,397.6 349.4,445.15 355.67,386.16 361.93,471.27" fill="none" stroke="#1e9fc6" stroke-width="1.1" stroke-dasharray="3.6 1.8 0.9 1.6"/>
<path d="M52 544.39L58 544.39L55 550.29Z" fill="#1e9fc6"/>
<path d="M58.26 377.34L64.26 377.34L61.26 383.24Z" fill="#1e9fc6"/>
<path d="M64.52 379.52L70.52 379.52L67.52 385.42Z" fill="#1e9fc6"/>
<path d="M70.79 394.7L76.79 394.7L73.79 400.6Z" fill="#1e9fc6"/>
<path d="M77.05 399.18L83.05 399.18L80.05 405.08Z" fill="#1e9fc6"/>
<path d="M83.32 396.02L89.32 396.02L86.32 401.92Z" fill="#1e9fc6"/>
<path d="M89.58 396.02L95.58 396.02L92.58 401.92Z" fill="#1e9fc6"/>
<path d="M95.84 396.02L101.84 396.02L98.84 401.92Z" fill="#1e9fc6"/>
<path d="M102.11 396.91L108.11 396.91L105.11 402.81Z" fill="#1e9fc6"/>
<path d="M108.37 396.91L114.37 396.91L111.37 402.81Z" fill="#1e9fc6"/>
<path d="M114.64 396.91L120.64 396.91L117.64 402.81Z" fill="#1e9fc6"/>
<path d="M120.9 396.91L126.9 396.91L123.9 402.81Z" fill="#1e9fc6"/>
<path d="M127.16 396.91L133.16 396.91L130.16 402.81Z" fill="#1e9fc6"/>
<path d="M133.43 396.91L139.43 396.91L136.43 402.81Z" fill="#1e9fc6"/>
<path d="M139.69 396.91L145.69 396.91L142.69 402.81Z" fill="#1e9fc6"/>
<path d="M145.96 396.91L151.96 396.91L148.96 402.81Z" fill="#1e9fc6"/>
<path d="M152.22 396.91L158.22 396.91L155.22 402.81Z" fill="#1e9fc6"/>
<path d="M158.48 396.91L164.48 396.91L161.48 402.81Z" fill="#1e9fc6"/>
<path d="M164.75 396.91L170.75 396.91L167.75 402.81Z" fill="#1e9fc6"/>
<path d="M171.01 396.91L177.01 396.91L174.01 402.81Z" fill="#1e9fc6"/>
<path d="M177.28 396.91L183.28 396.91L180.28 402.81Z" fill="#1e9fc6"/>
<path d="M183.54 396.91L189.54 396.91L186.54 402.81Z" fill="#1e9fc6"/>
<path d="M189.8 396.91L195.8 396.91L192.8 402.81Z" fill="#1e9fc6"/>
<path d="M196.07 396.91L202.07 396.91L199.07 402.81Z" fill="#1e9fc6"/>
<path d="M202.33 396.91L208.33 396.91L205.33 402.81Z" fill="#1e9fc6"/>
<path d="M208.6 396.91L214.6 396.91L211.6 402.81Z" fill="#1e9fc6"/>
<path d="M214.86 396.91L220.86 396.91L217.86 402.81Z" fill="#1e9fc6"/>
<path d="M221.12 396.91L227.12 396.91L224.12 402.81Z" fill="#1e9fc6"/>
<path d="M227.39 396.91L233.39 396.91L230.39 402.81Z" fill="#1e9fc6"/>
<path d="M233.65 393.4L239.65 393.4L236.65 399.3Z" fill="#1e9fc6"/>
<path d="M239.92 391.61L245.92 391.61L242.92 397.51Z" fill="#1e9fc6"/>
<path d="M246.18 394.7L252.18 394.7L249.18 400.6Z" fill="#1e9fc6"/>
<path d="M252.44 394.7L258.44 394.7L255.44 400.6Z" fill="#1e9fc6"/>
<path d="M258.71 394.7L264.71 394.7L261.71 400.6Z" fill="#1e9fc6"/>
<path d="M264.97 394.7L270.97 394.7L267.97 400.6Z" fill="#1e9fc6"/>
<path d="M271.24 394.7L277.24 394.7L274.24 400.6Z" fill="#1e9fc6"/>
<path d="M277.5 394.7L283.5 394.7L280.5 400.6Z" fill="#1e9fc6"/>
<path d="M283.76 394.7L289.76 394.7L286.76 400.6Z" fill="#1e9fc6"/>
<path d="M290.03 394.7L296.03 394.7L293.03 400.6Z" fill="#1e9fc6"/>
<path d="M296.29 394.7L302.29 394.7L299.29 400.6Z" fill="#1e9fc6"/>
<path d="M302.56 394.7L308.56 394.7L305.56 400.6Z" fill="#1e9fc6"/>
<path d="M308.82 399.18L314.82 399.18L311.82 405.08Z" fill="#1e9fc6"/>
<path d="M315.08 401.03L321.08 401.03L318.08 406.93Z" fill="#1e9fc6"/>
<path d="M321.35 402.45L327.35 402.45L324.35 408.35Z" fill="#1e9fc6"/>
<path d="M327.61 401.03L333.61 401.03L330.61 406.93Z" fill="#1e9fc6"/>
<path d="M336.88 398.58V403.82M335.38 398.58H338.38M335.38 403.82H338.38" stroke="#1e9fc6" stroke-width="0.9" fill="none" stroke-dasharray="3.6 1.8 0.9 1.6"/>
<path d="M333.88 398.26L339.88 398.26L336.88 404.16Z" fill="#1e9fc6"/>
<path d="M343.14 393.34V402.08M341.64 393.34H344.64M341.64 402.08H344.64" stroke="#1e9fc6" stroke-width="0.9" fill="none" stroke-dasharray="3.6 1.8 0.9 1.6"/>
<path d="M340.14 394.7L346.14 394.7L343.14 400.6Z" fill="#1e9fc6"/>
<path d="M349.4 436.83V454.35M347.9 436.83H350.9M347.9 454.35H350.9" stroke="#1e9fc6" stroke-width="0.9" fill="none" stroke-dasharray="3.6 1.8 0.9 1.6"/>
<path d="M346.4 442.25L352.4 442.25L349.4 448.15Z" fill="#1e9fc6"/>
<path d="M355.67 377.84V395.36M354.17 377.84H357.17M354.17 395.36H357.17" stroke="#1e9fc6" stroke-width="0.9" fill="none" stroke-dasharray="3.6 1.8 0.9 1.6"/>
<path d="M352.67 383.26L358.67 383.26L355.67 389.16Z" fill="#1e9fc6"/>
<path d="M361.93 456.82V488.6M360.43 456.82H363.43M360.43 488.6H363.43" stroke="#1e9fc6" stroke-width="0.9" fill="none" stroke-dasharray="3.6 1.8 0.9 1.6"/>
<path d="M358.93 468.37L364.93 468.37L361.93 474.27Z" fill="#1e9fc6"/>
</g>
<g clip-path="url(#cm)">
<rect x="52.2" y="169.1" width="5.6" height="5.6" fill="#000"/>
<rect x="58.46" y="151.9" width="5.6" height="5.6" fill="#000"/>
<rect x="64.72" y="118.2" width="5.6" height="5.6" fill="#000"/>
<rect x="70.99" y="98.6" width="5.6" height="5.6" fill="#000"/>
<rect x="77.25" y="90.5" width="5.6" height="5.6" fill="#000"/>
<rect x="83.52" y="89.7" width="5.6" height="5.6" fill="#000"/>
<rect x="89.78" y="90.8" width="5.6" height="5.6" fill="#000"/>
<rect x="96.04" y="92.7" width="5.6" height="5.6" fill="#000"/>
<rect x="102.31" y="95.8" width="5.6" height="5.6" fill="#000"/>
<rect x="108.57" y="98.2" width="5.6" height="5.6" fill="#000"/>
<rect x="114.84" y="100.7" width="5.6" height="5.6" fill="#000"/>
<rect x="121.1" y="103.6" width="5.6" height="5.6" fill="#000"/>
<rect x="127.36" y="106.1" width="5.6" height="5.6" fill="#000"/>
<rect x="133.63" y="108.3" width="5.6" height="5.6" fill="#000"/>
<rect x="139.89" y="110.5" width="5.6" height="5.6" fill="#000"/>
<rect x="146.16" y="112.3" width="5.6" height="5.6" fill="#000"/>
<rect x="152.42" y="113.9" width="5.6" height="5.6" fill="#000"/>
<rect x="158.68" y="115.4" width="5.6" height="5.6" fill="#000"/>
<rect x="164.95" y="116.9" width="5.6" height="5.6" fill="#000"/>
<rect x="171.21" y="118.6" width="5.6" height="5.6" fill="#000"/>
<rect x="177.48" y="120" width="5.6" height="5.6" fill="#000"/>
<rect x="183.74" y="121.5" width="5.6" height="5.6" fill="#000"/>
<rect x="190" y="123" width="5.6" height="5.6" fill="#000"/>
<rect x="196.27" y="124.4" width="5.6" height="5.6" fill="#000"/>
<rect x="202.53" y="125.8" width="5.6" height="5.6" fill="#000"/>
<rect x="208.8" y="126.9" width="5.6" height="5.6" fill="#000"/>
<rect x="215.06" y="127.9" width="5.6" height="5.6" fill="#000"/>
<rect x="221.32" y="129" width="5.6" height="5.6" fill="#000"/>
<rect x="227.59" y="130" width="5.6" height="5.6" fill="#000"/>
<rect x="233.85" y="130.9" width="5.6" height="5.6" fill="#000"/>
<rect x="240.12" y="132.1" width="5.6" height="5.6" fill="#000"/>
<rect x="246.38" y="133.8" width="5.6" height="5.6" fill="#000"/>
<rect x="252.64" y="135.4" width="5.6" height="5.6" fill="#000"/>
<rect x="258.91" y="136.5" width="5.6" height="5.6" fill="#000"/>
<rect x="265.17" y="137.3" width="5.6" height="5.6" fill="#000"/>
<rect x="271.44" y="138.2" width="5.6" height="5.6" fill="#000"/>
<rect x="277.7" y="139.1" width="5.6" height="5.6" fill="#000"/>
<rect x="283.96" y="140" width="5.6" height="5.6" fill="#000"/>
<rect x="290.23" y="141" width="5.6" height="5.6" fill="#000"/>
<rect x="296.49" y="144.2" width="5.6" height="5.6" fill="#000"/>
<rect x="302.76" y="149.5" width="5.6" height="5.6" fill="#000"/>
<rect x="309.02" y="157.6" width="5.6" height="5.6" fill="#000"/>
<rect x="315.28" y="164.7" width="5.6" height="5.6" fill="#000"/>
<rect x="321.55" y="171.8" width="5.6" height="5.6" fill="#000"/>
<rect x="327.81" y="181.2" width="5.6" height="5.6" fill="#000"/>
<rect x="334.08" y="190.9" width="5.6" height="5.6" fill="#000"/>
<rect x="340.34" y="200.5" width="5.6" height="5.6" fill="#000"/>
<rect x="346.6" y="207.6" width="5.6" height="5.6" fill="#000"/>
<rect x="352.87" y="229.2" width="5.6" height="5.6" fill="#000"/>
<rect x="359.13" y="252.2" width="5.6" height="5.6" fill="#000"/>
<polyline points="55,177.45 61.26,132.45 67.52,111.89 73.79,100.11 80.05,95.57 86.32,95.5 92.58,95.83 98.84,96.79 105.11,98.89 111.37,101.29 117.64,103.79 123.9,106.67 130.16,109.15 136.43,111.33 142.69,113.51 148.96,115.29 155.22,116.88 161.48,118.36 167.75,119.84 174.01,121.53 180.28,122.91 186.54,124.4 192.8,125.88 199.07,127.26 205.33,128.65 211.6,129.73 217.86,130.72 224.12,131.8 230.39,132.52 236.65,132.66 242.92,133.57 249.18,135.04 255.44,136.38 261.71,137.3 267.97,137.66 274.24,138.36 280.5,138.41 286.76,138.44 293.03,138.93 299.29,141.98 305.56,147.13 311.82,153.16 318.08,159.12 324.35,164.9 330.61,170.84 336.88,177.85 343.14,185.62 349.4,196.76 355.67,213.72 361.93,244.29" fill="none" stroke="#b5651d" stroke-width="1.1" stroke-dasharray="2.4 2.2"/>
<circle cx="55" cy="177.45" r="2.7" fill="none" stroke="#b5651d" stroke-width="1.0"/>
<circle cx="61.26" cy="132.45" r="2.7" fill="none" stroke="#b5651d" stroke-width="1.0"/>
<circle cx="67.52" cy="111.89" r="2.7" fill="none" stroke="#b5651d" stroke-width="1.0"/>
<circle cx="73.79" cy="100.11" r="2.7" fill="none" stroke="#b5651d" stroke-width="1.0"/>
<circle cx="80.05" cy="95.57" r="2.7" fill="none" stroke="#b5651d" stroke-width="1.0"/>
<circle cx="86.32" cy="95.5" r="2.7" fill="none" stroke="#b5651d" stroke-width="1.0"/>
<circle cx="92.58" cy="95.83" r="2.7" fill="none" stroke="#b5651d" stroke-width="1.0"/>
<circle cx="98.84" cy="96.79" r="2.7" fill="none" stroke="#b5651d" stroke-width="1.0"/>
<circle cx="105.11" cy="98.89" r="2.7" fill="none" stroke="#b5651d" stroke-width="1.0"/>
<circle cx="111.37" cy="101.29" r="2.7" fill="none" stroke="#b5651d" stroke-width="1.0"/>
<circle cx="117.64" cy="103.79" r="2.7" fill="none" stroke="#b5651d" stroke-width="1.0"/>
<circle cx="123.9" cy="106.67" r="2.7" fill="none" stroke="#b5651d" stroke-width="1.0"/>
<circle cx="130.16" cy="109.15" r="2.7" fill="none" stroke="#b5651d" stroke-width="1.0"/>
<circle cx="136.43" cy="111.33" r="2.7" fill="none" stroke="#b5651d" stroke-width="1.0"/>
<circle cx="142.69" cy="113.51" r="2.7" fill="none" stroke="#b5651d" stroke-width="1.0"/>
<circle cx="148.96" cy="115.29" r="2.7" fill="none" stroke="#b5651d" stroke-width="1.0"/>
<circle cx="155.22" cy="116.88" r="2.7" fill="none" stroke="#b5651d" stroke-width="1.0"/>
<circle cx="161.48" cy="118.36" r="2.7" fill="none" stroke="#b5651d" stroke-width="1.0"/>
<circle cx="167.75" cy="119.84" r="2.7" fill="none" stroke="#b5651d" stroke-width="1.0"/>
<circle cx="174.01" cy="121.53" r="2.7" fill="none" stroke="#b5651d" stroke-width="1.0"/>
<circle cx="180.28" cy="122.91" r="2.7" fill="none" stroke="#b5651d" stroke-width="1.0"/>
<circle cx="186.54" cy="124.4" r="2.7" fill="none" stroke="#b5651d" stroke-width="1.0"/>
<circle cx="192.8" cy="125.88" r="2.7" fill="none" stroke="#b5651d" stroke-width="1.0"/>
<circle cx="199.07" cy="127.26" r="2.7" fill="none" stroke="#b5651d" stroke-width="1.0"/>
<circle cx="205.33" cy="128.65" r="2.7" fill="none" stroke="#b5651d" stroke-width="1.0"/>
<circle cx="211.6" cy="129.73" r="2.7" fill="none" stroke="#b5651d" stroke-width="1.0"/>
<circle cx="217.86" cy="130.72" r="2.7" fill="none" stroke="#b5651d" stroke-width="1.0"/>
<circle cx="224.12" cy="131.8" r="2.7" fill="none" stroke="#b5651d" stroke-width="1.0"/>
<circle cx="230.39" cy="132.52" r="2.7" fill="none" stroke="#b5651d" stroke-width="1.0"/>
<circle cx="236.65" cy="132.66" r="2.7" fill="none" stroke="#b5651d" stroke-width="1.0"/>
<circle cx="242.92" cy="133.57" r="2.7" fill="none" stroke="#b5651d" stroke-width="1.0"/>
<circle cx="249.18" cy="135.04" r="2.7" fill="none" stroke="#b5651d" stroke-width="1.0"/>
<circle cx="255.44" cy="136.38" r="2.7" fill="none" stroke="#b5651d" stroke-width="1.0"/>
<circle cx="261.71" cy="137.3" r="2.7" fill="none" stroke="#b5651d" stroke-width="1.0"/>
<circle cx="267.97" cy="137.66" r="2.7" fill="none" stroke="#b5651d" stroke-width="1.0"/>
<circle cx="274.24" cy="138.36" r="2.7" fill="none" stroke="#b5651d" stroke-width="1.0"/>
<circle cx="280.5" cy="138.41" r="2.7" fill="none" stroke="#b5651d" stroke-width="1.0"/>
<circle cx="286.76" cy="138.44" r="2.7" fill="none" stroke="#b5651d" stroke-width="1.0"/>
<circle cx="293.03" cy="138.93" r="2.7" fill="none" stroke="#b5651d" stroke-width="1.0"/>
<circle cx="299.29" cy="141.98" r="2.7" fill="none" stroke="#b5651d" stroke-width="1.0"/>
<circle cx="305.56" cy="147.13" r="2.7" fill="none" stroke="#b5651d" stroke-width="1.0"/>
<circle cx="311.82" cy="153.16" r="2.7" fill="none" stroke="#b5651d" stroke-width="1.0"/>
<circle cx="318.08" cy="159.12" r="2.7" fill="none" stroke="#b5651d" stroke-width="1.0"/>
<circle cx="324.35" cy="164.9" r="2.7" fill="none" stroke="#b5651d" stroke-width="1.0"/>
<circle cx="330.61" cy="170.84" r="2.7" fill="none" stroke="#b5651d" stroke-width="1.0"/>
<circle cx="336.88" cy="177.85" r="2.7" fill="none" stroke="#b5651d" stroke-width="1.0"/>
<circle cx="343.14" cy="185.62" r="2.7" fill="none" stroke="#b5651d" stroke-width="1.0"/>
<path d="M349.4 196.38V197.15" stroke="#b5651d" stroke-width="0.9" fill="none"/>
<circle cx="349.4" cy="196.76" r="2.7" fill="none" stroke="#b5651d" stroke-width="1.0"/>
<path d="M355.67 212.61V214.9" stroke="#b5651d" stroke-width="0.9" fill="none"/>
<circle cx="355.67" cy="213.72" r="2.7" fill="none" stroke="#b5651d" stroke-width="1.0"/>
<path d="M361.93 242.13V246.74" stroke="#b5651d" stroke-width="0.9" fill="none"/>
<circle cx="361.93" cy="244.29" r="2.7" fill="none" stroke="#b5651d" stroke-width="1.0"/>
<polyline points="55,177.45 61.26,148.68 67.52,123.95 73.79,106.65 80.05,97.21 86.32,93.08 92.58,92.31 98.84,92.66 105.11,95.19 111.37,97.35 117.64,100.5 123.9,103.56 130.16,107.25 136.43,109.63 142.69,112.73 148.96,115.1 155.22,116.89 161.48,118.68 167.75,121.17 174.01,123.2 180.28,124.82 186.54,126.64 192.8,128.14 199.07,129.75 205.33,130.76 211.6,132.25 217.86,132.86 224.12,133.27 230.39,135.84 236.65,135.36 242.92,136.37 249.18,138.4 255.44,139.67 261.71,140.57 267.97,141.12 274.24,142.08 280.5,142.98 286.76,143.78 293.03,144.58 299.29,147.98 305.56,153.28 311.82,161.38 318.08,169.52 324.35,176.4 330.61,184.98 336.88,194.09 343.14,200.3 349.4,219.55 355.67,225.29 361.93,258.56" fill="none" stroke="#3da32a" stroke-width="1.1" stroke-dasharray="2.4 2.2"/>
<rect x="52.1" y="174.55" width="5.8" height="5.8" fill="none" stroke="#3da32a" stroke-width="1.0"/>
<rect x="58.36" y="145.78" width="5.8" height="5.8" fill="none" stroke="#3da32a" stroke-width="1.0"/>
<rect x="64.62" y="121.05" width="5.8" height="5.8" fill="none" stroke="#3da32a" stroke-width="1.0"/>
<rect x="70.89" y="103.75" width="5.8" height="5.8" fill="none" stroke="#3da32a" stroke-width="1.0"/>
<rect x="77.15" y="94.31" width="5.8" height="5.8" fill="none" stroke="#3da32a" stroke-width="1.0"/>
<rect x="83.42" y="90.18" width="5.8" height="5.8" fill="none" stroke="#3da32a" stroke-width="1.0"/>
<rect x="89.68" y="89.41" width="5.8" height="5.8" fill="none" stroke="#3da32a" stroke-width="1.0"/>
<rect x="95.94" y="89.76" width="5.8" height="5.8" fill="none" stroke="#3da32a" stroke-width="1.0"/>
<rect x="102.21" y="92.29" width="5.8" height="5.8" fill="none" stroke="#3da32a" stroke-width="1.0"/>
<rect x="108.47" y="94.45" width="5.8" height="5.8" fill="none" stroke="#3da32a" stroke-width="1.0"/>
<rect x="114.74" y="97.6" width="5.8" height="5.8" fill="none" stroke="#3da32a" stroke-width="1.0"/>
<rect x="121" y="100.66" width="5.8" height="5.8" fill="none" stroke="#3da32a" stroke-width="1.0"/>
<rect x="127.26" y="104.35" width="5.8" height="5.8" fill="none" stroke="#3da32a" stroke-width="1.0"/>
<rect x="133.53" y="106.73" width="5.8" height="5.8" fill="none" stroke="#3da32a" stroke-width="1.0"/>
<rect x="139.79" y="109.83" width="5.8" height="5.8" fill="none" stroke="#3da32a" stroke-width="1.0"/>
<rect x="146.06" y="112.2" width="5.8" height="5.8" fill="none" stroke="#3da32a" stroke-width="1.0"/>
<rect x="152.32" y="113.99" width="5.8" height="5.8" fill="none" stroke="#3da32a" stroke-width="1.0"/>
<rect x="158.58" y="115.78" width="5.8" height="5.8" fill="none" stroke="#3da32a" stroke-width="1.0"/>
<rect x="164.85" y="118.27" width="5.8" height="5.8" fill="none" stroke="#3da32a" stroke-width="1.0"/>
<rect x="171.11" y="120.3" width="5.8" height="5.8" fill="none" stroke="#3da32a" stroke-width="1.0"/>
<rect x="177.38" y="121.92" width="5.8" height="5.8" fill="none" stroke="#3da32a" stroke-width="1.0"/>
<rect x="183.64" y="123.74" width="5.8" height="5.8" fill="none" stroke="#3da32a" stroke-width="1.0"/>
<rect x="189.9" y="125.24" width="5.8" height="5.8" fill="none" stroke="#3da32a" stroke-width="1.0"/>
<rect x="196.17" y="126.85" width="5.8" height="5.8" fill="none" stroke="#3da32a" stroke-width="1.0"/>
<rect x="202.43" y="127.86" width="5.8" height="5.8" fill="none" stroke="#3da32a" stroke-width="1.0"/>
<rect x="208.7" y="129.35" width="5.8" height="5.8" fill="none" stroke="#3da32a" stroke-width="1.0"/>
<rect x="214.96" y="129.96" width="5.8" height="5.8" fill="none" stroke="#3da32a" stroke-width="1.0"/>
<rect x="221.22" y="130.37" width="5.8" height="5.8" fill="none" stroke="#3da32a" stroke-width="1.0"/>
<rect x="227.49" y="132.94" width="5.8" height="5.8" fill="none" stroke="#3da32a" stroke-width="1.0"/>
<rect x="233.75" y="132.46" width="5.8" height="5.8" fill="none" stroke="#3da32a" stroke-width="1.0"/>
<rect x="240.02" y="133.47" width="5.8" height="5.8" fill="none" stroke="#3da32a" stroke-width="1.0"/>
<rect x="246.28" y="135.5" width="5.8" height="5.8" fill="none" stroke="#3da32a" stroke-width="1.0"/>
<rect x="252.54" y="136.77" width="5.8" height="5.8" fill="none" stroke="#3da32a" stroke-width="1.0"/>
<rect x="258.81" y="137.67" width="5.8" height="5.8" fill="none" stroke="#3da32a" stroke-width="1.0"/>
<rect x="265.07" y="138.22" width="5.8" height="5.8" fill="none" stroke="#3da32a" stroke-width="1.0"/>
<rect x="271.34" y="139.18" width="5.8" height="5.8" fill="none" stroke="#3da32a" stroke-width="1.0"/>
<rect x="277.6" y="140.08" width="5.8" height="5.8" fill="none" stroke="#3da32a" stroke-width="1.0"/>
<rect x="283.86" y="140.88" width="5.8" height="5.8" fill="none" stroke="#3da32a" stroke-width="1.0"/>
<rect x="290.13" y="141.68" width="5.8" height="5.8" fill="none" stroke="#3da32a" stroke-width="1.0"/>
<rect x="296.39" y="145.08" width="5.8" height="5.8" fill="none" stroke="#3da32a" stroke-width="1.0"/>
<rect x="302.66" y="150.38" width="5.8" height="5.8" fill="none" stroke="#3da32a" stroke-width="1.0"/>
<rect x="308.92" y="158.48" width="5.8" height="5.8" fill="none" stroke="#3da32a" stroke-width="1.0"/>
<rect x="315.18" y="166.62" width="5.8" height="5.8" fill="none" stroke="#3da32a" stroke-width="1.0"/>
<rect x="321.45" y="173.5" width="5.8" height="5.8" fill="none" stroke="#3da32a" stroke-width="1.0"/>
<rect x="327.71" y="182.08" width="5.8" height="5.8" fill="none" stroke="#3da32a" stroke-width="1.0"/>
<path d="M336.88 193.52V194.67" stroke="#3da32a" stroke-width="0.9" fill="none"/>
<rect x="333.98" y="191.19" width="5.8" height="5.8" fill="none" stroke="#3da32a" stroke-width="1.0"/>
<path d="M343.14 199.36V201.28" stroke="#3da32a" stroke-width="0.9" fill="none"/>
<rect x="340.24" y="197.4" width="5.8" height="5.8" fill="none" stroke="#3da32a" stroke-width="1.0"/>
<path d="M349.4 218.07V221.14" stroke="#3da32a" stroke-width="0.9" fill="none"/>
<rect x="346.5" y="216.65" width="5.8" height="5.8" fill="none" stroke="#3da32a" stroke-width="1.0"/>
<path d="M355.67 222.29V228.86" stroke="#3da32a" stroke-width="0.9" fill="none"/>
<rect x="352.77" y="222.39" width="5.8" height="5.8" fill="none" stroke="#3da32a" stroke-width="1.0"/>
<path d="M361.93 255.89V261.67" stroke="#3da32a" stroke-width="0.9" fill="none"/>
<rect x="359.03" y="255.66" width="5.8" height="5.8" fill="none" stroke="#3da32a" stroke-width="1.0"/>
<polyline points="55,210.93 61.26,154.7 67.52,121.62 73.79,103.1 80.05,95.42 86.32,93.77 92.58,93.99 98.84,95.5 105.11,98.22 111.37,100.62 117.64,103.12 123.9,106.02 130.16,108.52 136.43,110.72 142.69,112.92 148.96,114.72 155.22,115.66 161.48,117.01 167.75,119.23 174.01,120.83 180.28,122.12 186.54,123.73 192.8,125.52 199.07,126.92 205.33,127.56 211.6,129.13 217.86,130.04 224.12,131.8 230.39,132.8 236.65,133.7 242.92,134.9 249.18,136.6 255.44,138.2 261.71,139.3 267.97,140.1 274.24,141.48 280.5,142.19 286.76,142.8 293.03,143.8 299.29,147 305.56,152.3 311.82,159.11 318.08,166.93 324.35,174.6 330.61,183.07 336.88,191.53 343.14,201.74 349.4,215.9 355.67,234.45 361.93,263.54" fill="none" stroke="#0808ea" stroke-width="1.1"/>
<path d="M55 207.93L57.9 213.83L52.1 213.83Z" fill="#0808ea"/>
<path d="M61.26 151.7L64.16 157.6L58.36 157.6Z" fill="#0808ea"/>
<path d="M67.52 118.62L70.42 124.52L64.62 124.52Z" fill="#0808ea"/>
<path d="M73.79 100.1L76.69 106L70.89 106Z" fill="#0808ea"/>
<path d="M80.05 92.42L82.95 98.32L77.15 98.32Z" fill="#0808ea"/>
<path d="M86.32 90.77L89.22 96.67L83.42 96.67Z" fill="#0808ea"/>
<path d="M92.58 90.99L95.48 96.89L89.68 96.89Z" fill="#0808ea"/>
<path d="M98.84 92.5L101.74 98.4L95.94 98.4Z" fill="#0808ea"/>
<path d="M105.11 95.22L108.01 101.12L102.21 101.12Z" fill="#0808ea"/>
<path d="M111.37 97.62L114.27 103.52L108.47 103.52Z" fill="#0808ea"/>
<path d="M117.64 100.12L120.54 106.02L114.74 106.02Z" fill="#0808ea"/>
<path d="M123.9 103.02L126.8 108.92L121 108.92Z" fill="#0808ea"/>
<path d="M130.16 105.52L133.06 111.42L127.26 111.42Z" fill="#0808ea"/>
<path d="M136.43 107.72L139.33 113.62L133.53 113.62Z" fill="#0808ea"/>
<path d="M142.69 109.92L145.59 115.82L139.79 115.82Z" fill="#0808ea"/>
<path d="M148.96 111.72L151.86 117.62L146.06 117.62Z" fill="#0808ea"/>
<path d="M155.22 112.66L158.12 118.56L152.32 118.56Z" fill="#0808ea"/>
<path d="M161.48 114.01L164.38 119.91L158.58 119.91Z" fill="#0808ea"/>
<path d="M167.75 116.23L170.65 122.13L164.85 122.13Z" fill="#0808ea"/>
<path d="M174.01 117.83L176.91 123.73L171.11 123.73Z" fill="#0808ea"/>
<path d="M180.28 119.12L183.18 125.02L177.38 125.02Z" fill="#0808ea"/>
<path d="M186.54 120.73L189.44 126.63L183.64 126.63Z" fill="#0808ea"/>
<path d="M192.8 122.52L195.7 128.42L189.9 128.42Z" fill="#0808ea"/>
<path d="M199.07 123.92L201.97 129.82L196.17 129.82Z" fill="#0808ea"/>
<path d="M205.33 124.56L208.23 130.46L202.43 130.46Z" fill="#0808ea"/>
<path d="M211.6 126.13L214.5 132.03L208.7 132.03Z" fill="#0808ea"/>
<path d="M217.86 127.04L220.76 132.94L214.96 132.94Z" fill="#0808ea"/>
<path d="M224.12 128.8L227.02 134.7L221.22 134.7Z" fill="#0808ea"/>
<path d="M230.39 129.8L233.29 135.7L227.49 135.7Z" fill="#0808ea"/>
<path d="M236.65 130.7L239.55 136.6L233.75 136.6Z" fill="#0808ea"/>
<path d="M242.92 131.9L245.82 137.8L240.02 137.8Z" fill="#0808ea"/>
<path d="M249.18 133.6L252.08 139.5L246.28 139.5Z" fill="#0808ea"/>
<path d="M255.44 135.2L258.34 141.1L252.54 141.1Z" fill="#0808ea"/>
<path d="M261.71 136.3L264.61 142.2L258.81 142.2Z" fill="#0808ea"/>
<path d="M267.97 137.1L270.87 143L265.07 143Z" fill="#0808ea"/>
<path d="M274.24 138.48L277.14 144.38L271.34 144.38Z" fill="#0808ea"/>
<path d="M280.5 139.19L283.4 145.09L277.6 145.09Z" fill="#0808ea"/>
<path d="M286.76 139.8L289.66 145.7L283.86 145.7Z" fill="#0808ea"/>
<path d="M293.03 140.8L295.93 146.7L290.13 146.7Z" fill="#0808ea"/>
<path d="M299.29 144L302.19 149.9L296.39 149.9Z" fill="#0808ea"/>
<path d="M305.56 149.3L308.46 155.2L302.66 155.2Z" fill="#0808ea"/>
<path d="M311.82 156.11L314.72 162.01L308.92 162.01Z" fill="#0808ea"/>
<path d="M318.08 163.93L320.98 169.83L315.18 169.83Z" fill="#0808ea"/>
<path d="M324.35 171.6L327.25 177.5L321.45 177.5Z" fill="#0808ea"/>
<path d="M330.61 180.07L333.51 185.97L327.71 185.97Z" fill="#0808ea"/>
<path d="M336.88 190.97V192.11" stroke="#0808ea" stroke-width="0.9" fill="none"/>
<path d="M336.88 188.53L339.78 194.43L333.98 194.43Z" fill="#0808ea"/>
<path d="M343.14 200.81V202.72" stroke="#0808ea" stroke-width="0.9" fill="none"/>
<path d="M343.14 198.74L346.04 204.64L340.24 204.64Z" fill="#0808ea"/>
<path d="M349.4 214.43V217.5" stroke="#0808ea" stroke-width="0.9" fill="none"/>
<path d="M349.4 212.9L352.3 218.8L346.5 218.8Z" fill="#0808ea"/>
<path d="M355.67 232.62V236.46" stroke="#0808ea" stroke-width="0.9" fill="none"/>
<path d="M355.67 231.45L358.57 237.35L352.77 237.35Z" fill="#0808ea"/>
<path d="M361.93 260.86V266.65" stroke="#0808ea" stroke-width="0.9" fill="none"/>
<path d="M361.93 260.54L364.83 266.44L359.03 266.44Z" fill="#0808ea"/>
<polyline points="55,200.02 61.26,148.61 67.52,117.35 73.79,100.29 80.05,93.69 86.32,92.69 92.58,93.79 98.84,95.69 105.11,98.89 111.37,101.29 117.64,103.79 123.9,106.69 130.16,109.19 136.43,111.39 142.69,113.59 148.96,115.39 155.22,116.99 161.48,118.49 167.75,119.99 174.01,121.69 180.28,123.09 186.54,124.59 192.8,126.09 199.07,127.49 205.33,128.89 211.6,129.99 217.86,130.99 224.12,132.19 230.39,133.28 236.65,133.42 242.92,134.22 249.18,136.6 255.44,138.2 261.71,139.3 267.97,140.1 274.24,141 280.5,141.9 286.76,142.8 293.03,143.8 299.29,147 305.56,152.3 311.82,161.38 318.08,168.89 324.35,176.3 330.61,185.39 336.88,194.48 343.14,203.3 349.4,215.15 355.67,236.51 361.93,268.26" fill="none" stroke="#1e9fc6" stroke-width="1.1" stroke-dasharray="3.6 1.8 0.9 1.6"/>
<path d="M52 197.12L58 197.12L55 203.02Z" fill="#1e9fc6"/>
<path d="M58.26 145.71L64.26 145.71L61.26 151.61Z" fill="#1e9fc6"/>
<path d="M64.52 114.45L70.52 114.45L67.52 120.35Z" fill="#1e9fc6"/>
<path d="M70.79 97.39L76.79 97.39L73.79 103.29Z" fill="#1e9fc6"/>
<path d="M77.05 90.79L83.05 90.79L80.05 96.69Z" fill="#1e9fc6"/>
<path d="M83.32 89.79L89.32 89.79L86.32 95.69Z" fill="#1e9fc6"/>
<path d="M89.58 90.89L95.58 90.89L92.58 96.79Z" fill="#1e9fc6"/>
<path d="M95.84 92.79L101.84 92.79L98.84 98.69Z" fill="#1e9fc6"/>
<path d="M102.11 95.99L108.11 95.99L105.11 101.89Z" fill="#1e9fc6"/>
<path d="M108.37 98.39L114.37 98.39L111.37 104.29Z" fill="#1e9fc6"/>
<path d="M114.64 100.89L120.64 100.89L117.64 106.79Z" fill="#1e9fc6"/>
<path d="M120.9 103.79L126.9 103.79L123.9 109.69Z" fill="#1e9fc6"/>
<path d="M127.16 106.29L133.16 106.29L130.16 112.19Z" fill="#1e9fc6"/>
<path d="M133.43 108.49L139.43 108.49L136.43 114.39Z" fill="#1e9fc6"/>
<path d="M139.69 110.69L145.69 110.69L142.69 116.59Z" fill="#1e9fc6"/>
<path d="M145.96 112.49L151.96 112.49L148.96 118.39Z" fill="#1e9fc6"/>
<path d="M152.22 114.09L158.22 114.09L155.22 119.99Z" fill="#1e9fc6"/>
<path d="M158.48 115.59L164.48 115.59L161.48 121.49Z" fill="#1e9fc6"/>
<path d="M164.75 117.09L170.75 117.09L167.75 122.99Z" fill="#1e9fc6"/>
<path d="M171.01 118.79L177.01 118.79L174.01 124.69Z" fill="#1e9fc6"/>
<path d="M177.28 120.19L183.28 120.19L180.28 126.09Z" fill="#1e9fc6"/>
<path d="M183.54 121.69L189.54 121.69L186.54 127.59Z" fill="#1e9fc6"/>
<path d="M189.8 123.19L195.8 123.19L192.8 129.09Z" fill="#1e9fc6"/>
<path d="M196.07 124.59L202.07 124.59L199.07 130.49Z" fill="#1e9fc6"/>
<path d="M202.33 125.99L208.33 125.99L205.33 131.89Z" fill="#1e9fc6"/>
<path d="M208.6 127.09L214.6 127.09L211.6 132.99Z" fill="#1e9fc6"/>
<path d="M214.86 128.09L220.86 128.09L217.86 133.99Z" fill="#1e9fc6"/>
<path d="M221.12 129.29L227.12 129.29L224.12 135.19Z" fill="#1e9fc6"/>
<path d="M227.39 130.38L233.39 130.38L230.39 136.28Z" fill="#1e9fc6"/>
<path d="M233.65 130.52L239.65 130.52L236.65 136.42Z" fill="#1e9fc6"/>
<path d="M239.92 131.32L245.92 131.32L242.92 137.22Z" fill="#1e9fc6"/>
<path d="M246.18 133.7L252.18 133.7L249.18 139.6Z" fill="#1e9fc6"/>
<path d="M252.44 135.3L258.44 135.3L255.44 141.2Z" fill="#1e9fc6"/>
<path d="M258.71 136.4L264.71 136.4L261.71 142.3Z" fill="#1e9fc6"/>
<path d="M264.97 137.2L270.97 137.2L267.97 143.1Z" fill="#1e9fc6"/>
<path d="M271.24 138.1L277.24 138.1L274.24 144Z" fill="#1e9fc6"/>
<path d="M277.5 139L283.5 139L280.5 144.9Z" fill="#1e9fc6"/>
<path d="M283.76 139.9L289.76 139.9L286.76 145.8Z" fill="#1e9fc6"/>
<path d="M290.03 140.9L296.03 140.9L293.03 146.8Z" fill="#1e9fc6"/>
<path d="M296.29 144.1L302.29 144.1L299.29 150Z" fill="#1e9fc6"/>
<path d="M302.56 149.4L308.56 149.4L305.56 155.3Z" fill="#1e9fc6"/>
<path d="M308.82 158.48L314.82 158.48L311.82 164.38Z" fill="#1e9fc6"/>
<path d="M315.08 165.99L321.08 165.99L318.08 171.89Z" fill="#1e9fc6"/>
<path d="M321.35 173.4L327.35 173.4L324.35 179.3Z" fill="#1e9fc6"/>
<path d="M327.61 182.49L333.61 182.49L330.61 188.39Z" fill="#1e9fc6"/>
<path d="M336.88 193.92V195.06" stroke="#1e9fc6" stroke-width="0.9" fill="none"/>
<path d="M333.88 191.58L339.88 191.58L336.88 197.48Z" fill="#1e9fc6"/>
<path d="M343.14 202.37V204.28" stroke="#1e9fc6" stroke-width="0.9" fill="none"/>
<path d="M340.14 200.4L346.14 200.4L343.14 206.3Z" fill="#1e9fc6"/>
<path d="M349.4 213.33V217.17" stroke="#1e9fc6" stroke-width="0.9" fill="none"/>
<path d="M346.4 212.25L352.4 212.25L349.4 218.15Z" fill="#1e9fc6"/>
<path d="M355.67 234.69V238.53" stroke="#1e9fc6" stroke-width="0.9" fill="none"/>
<path d="M352.67 233.61L358.67 233.61L355.67 239.51Z" fill="#1e9fc6"/>
<path d="M361.93 265.09V272.06" stroke="#1e9fc6" stroke-width="0.9" fill="none"/>
<path d="M358.93 265.36L364.93 265.36L361.93 271.26Z" fill="#1e9fc6"/>
<polyline points="55,190.92 61.26,147.72 67.52,119.98 73.79,104.96 80.05,99.14 86.32,97.75 92.58,97.03 98.84,97.3 105.11,99.08 111.37,101 117.64,102.21 123.9,104.23 130.16,106.39 136.43,108.26 142.69,110.13 148.96,111.69 155.22,113.1 161.48,114.79 167.75,117.19 174.01,118.07 180.28,120.29 186.54,121.46 192.8,123.46 199.07,124.78 205.33,125.11 211.6,126.86 217.86,128.03 224.12,129.55 230.39,130.67 236.65,131.26 242.92,131.73 249.18,134.78 255.44,135.86 261.71,136.46 267.97,137.85 274.24,138.75 280.5,139.96 286.76,140.46 293.03,142.33 299.29,144.66 305.56,148.81 311.82,154.8 318.08,162.33 324.35,168.72 330.61,177.98 336.88,188.83 343.14,200.13 349.4,211.38 355.67,229.16 361.93,257.02" fill="none" stroke="#ff1a1a" stroke-width="1.1" stroke-dasharray="1.2 1.3"/>
<path d="M55 187.52L57.3 190.92L55 194.32L52.7 190.92Z" fill="#ff1a1a"/>
<path d="M61.26 144.32L63.56 147.72L61.26 151.12L58.96 147.72Z" fill="#ff1a1a"/>
<path d="M67.52 116.58L69.82 119.98L67.52 123.38L65.22 119.98Z" fill="#ff1a1a"/>
<path d="M73.79 101.56L76.09 104.96L73.79 108.36L71.49 104.96Z" fill="#ff1a1a"/>
<path d="M80.05 95.74L82.35 99.14L80.05 102.54L77.75 99.14Z" fill="#ff1a1a"/>
<path d="M86.32 94.35L88.62 97.75L86.32 101.15L84.02 97.75Z" fill="#ff1a1a"/>
<path d="M92.58 93.63L94.88 97.03L92.58 100.43L90.28 97.03Z" fill="#ff1a1a"/>
<path d="M98.84 93.9L101.14 97.3L98.84 100.7L96.54 97.3Z" fill="#ff1a1a"/>
<path d="M105.11 95.68L107.41 99.08L105.11 102.48L102.81 99.08Z" fill="#ff1a1a"/>
<path d="M111.37 97.6L113.67 101L111.37 104.4L109.07 101Z" fill="#ff1a1a"/>
<path d="M117.64 98.81L119.94 102.21L117.64 105.61L115.34 102.21Z" fill="#ff1a1a"/>
<path d="M123.9 100.83L126.2 104.23L123.9 107.63L121.6 104.23Z" fill="#ff1a1a"/>
<path d="M130.16 102.99L132.46 106.39L130.16 109.79L127.86 106.39Z" fill="#ff1a1a"/>
<path d="M136.43 104.86L138.73 108.26L136.43 111.66L134.13 108.26Z" fill="#ff1a1a"/>
<path d="M142.69 106.73L144.99 110.13L142.69 113.53L140.39 110.13Z" fill="#ff1a1a"/>
<path d="M148.96 108.29L151.26 111.69L148.96 115.09L146.66 111.69Z" fill="#ff1a1a"/>
<path d="M155.22 109.7L157.52 113.1L155.22 116.5L152.92 113.1Z" fill="#ff1a1a"/>
<path d="M161.48 111.39L163.78 114.79L161.48 118.19L159.18 114.79Z" fill="#ff1a1a"/>
<path d="M167.75 113.79L170.05 117.19L167.75 120.59L165.45 117.19Z" fill="#ff1a1a"/>
<path d="M174.01 114.67L176.31 118.07L174.01 121.47L171.71 118.07Z" fill="#ff1a1a"/>
<path d="M180.28 116.89L182.58 120.29L180.28 123.69L177.98 120.29Z" fill="#ff1a1a"/>
<path d="M186.54 118.06L188.84 121.46L186.54 124.86L184.24 121.46Z" fill="#ff1a1a"/>
<path d="M192.8 120.06L195.1 123.46L192.8 126.86L190.5 123.46Z" fill="#ff1a1a"/>
<path d="M199.07 121.38L201.37 124.78L199.07 128.18L196.77 124.78Z" fill="#ff1a1a"/>
<path d="M205.33 121.71L207.63 125.11L205.33 128.51L203.03 125.11Z" fill="#ff1a1a"/>
<path d="M211.6 123.46L213.9 126.86L211.6 130.26L209.3 126.86Z" fill="#ff1a1a"/>
<path d="M217.86 124.63L220.16 128.03L217.86 131.43L215.56 128.03Z" fill="#ff1a1a"/>
<path d="M224.12 126.15L226.42 129.55L224.12 132.95L221.82 129.55Z" fill="#ff1a1a"/>
<path d="M230.39 127.27L232.69 130.67L230.39 134.07L228.09 130.67Z" fill="#ff1a1a"/>
<path d="M236.65 127.86L238.95 131.26L236.65 134.66L234.35 131.26Z" fill="#ff1a1a"/>
<path d="M242.92 128.33L245.22 131.73L242.92 135.13L240.62 131.73Z" fill="#ff1a1a"/>
<path d="M249.18 131.38L251.48 134.78L249.18 138.18L246.88 134.78Z" fill="#ff1a1a"/>
<path d="M255.44 132.46L257.74 135.86L255.44 139.26L253.14 135.86Z" fill="#ff1a1a"/>
<path d="M261.71 133.06L264.01 136.46L261.71 139.86L259.41 136.46Z" fill="#ff1a1a"/>
<path d="M267.97 134.45L270.27 137.85L267.97 141.25L265.67 137.85Z" fill="#ff1a1a"/>
<path d="M274.24 135.35L276.54 138.75L274.24 142.15L271.94 138.75Z" fill="#ff1a1a"/>
<path d="M280.5 136.56L282.8 139.96L280.5 143.36L278.2 139.96Z" fill="#ff1a1a"/>
<path d="M286.76 137.06L289.06 140.46L286.76 143.86L284.46 140.46Z" fill="#ff1a1a"/>
<path d="M293.03 138.93L295.33 142.33L293.03 145.73L290.73 142.33Z" fill="#ff1a1a"/>
<path d="M299.29 141.26L301.59 144.66L299.29 148.06L296.99 144.66Z" fill="#ff1a1a"/>
<path d="M305.56 145.41L307.86 148.81L305.56 152.21L303.26 148.81Z" fill="#ff1a1a"/>
<path d="M311.82 151.4L314.12 154.8L311.82 158.2L309.52 154.8Z" fill="#ff1a1a"/>
<path d="M318.08 158.93L320.38 162.33L318.08 165.73L315.78 162.33Z" fill="#ff1a1a"/>
<path d="M324.35 165.32L326.65 168.72L324.35 172.12L322.05 168.72Z" fill="#ff1a1a"/>
<path d="M330.61 174.58L332.91 177.98L330.61 181.38L328.31 177.98Z" fill="#ff1a1a"/>
<path d="M336.88 188.26V189.41" stroke="#ff1a1a" stroke-width="0.9" fill="none"/>
<path d="M336.88 185.43L339.18 188.83L336.88 192.23L334.58 188.83Z" fill="#ff1a1a"/>
<path d="M343.14 199.2V201.11" stroke="#ff1a1a" stroke-width="0.9" fill="none"/>
<path d="M343.14 196.73L345.44 200.13L343.14 203.53L340.84 200.13Z" fill="#ff1a1a"/>
<path d="M349.4 209.91V212.98" stroke="#ff1a1a" stroke-width="0.9" fill="none"/>
<path d="M349.4 207.98L351.7 211.38L349.4 214.78L347.1 211.38Z" fill="#ff1a1a"/>
<path d="M355.67 226.99V231.61" stroke="#ff1a1a" stroke-width="0.9" fill="none"/>
<path d="M355.67 225.76L357.97 229.16L355.67 232.56L353.37 229.16Z" fill="#ff1a1a"/>
<path d="M361.93 252V263.84" stroke="#ff1a1a" stroke-width="0.9" fill="none"/>
<path d="M361.93 253.62L364.23 257.02L361.93 260.42L359.63 257.02Z" fill="#ff1a1a"/>
<polyline points="55,204.71 61.26,150.9 67.52,117.67 73.79,101.4 80.05,94.28 86.32,92.79 92.58,93.89 98.84,95.79 105.11,99.08 111.37,101.48 117.64,103.98 123.9,106.88 130.16,109.38 136.43,111.58 142.69,113.78 148.96,115.58 155.22,117.18 161.48,118.68 167.75,120.18 174.01,121.88 180.28,123.28 186.54,124.78 192.8,126.28 199.07,127.68 205.33,129.08 211.6,130.18 217.86,131.18 224.12,132.28 230.39,133.28 236.65,133.42 242.92,134.22 249.18,136.6 255.44,138.2 261.71,139.3 267.97,140.1 274.24,141 280.5,141.9 286.76,142.8 293.03,143.8 299.29,147 305.56,152.3 311.82,161.38 318.08,168.89 324.35,176.3 330.61,185.39 336.88,194.48 343.14,203.3 349.4,220.82 355.67,229.49 361.93,271.15" fill="none" stroke="#1e9fc6" stroke-width="1.1" stroke-dasharray="3.6 1.8 0.9 1.6"/>
<path d="M52 201.81L58 201.81L55 207.71Z" fill="#1e9fc6"/>
<path d="M58.26 148L64.26 148L61.26 153.9Z" fill="#1e9fc6"/>
<path d="M64.52 114.77L70.52 114.77L67.52 120.67Z" fill="#1e9fc6"/>
<path d="M70.79 98.5L76.79 98.5L73.79 104.4Z" fill="#1e9fc6"/>
<path d="M77.05 91.38L83.05 91.38L80.05 97.28Z" fill="#1e9fc6"/>
<path d="M83.32 89.89L89.32 89.89L86.32 95.79Z" fill="#1e9fc6"/>
<path d="M89.58 90.99L95.58 90.99L92.58 96.89Z" fill="#1e9fc6"/>
<path d="M95.84 92.89L101.84 92.89L98.84 98.79Z" fill="#1e9fc6"/>
<path d="M102.11 96.18L108.11 96.18L105.11 102.08Z" fill="#1e9fc6"/>
<path d="M108.37 98.58L114.37 98.58L111.37 104.48Z" fill="#1e9fc6"/>
<path d="M114.64 101.08L120.64 101.08L117.64 106.98Z" fill="#1e9fc6"/>
<path d="M120.9 103.98L126.9 103.98L123.9 109.88Z" fill="#1e9fc6"/>
<path d="M127.16 106.48L133.16 106.48L130.16 112.38Z" fill="#1e9fc6"/>
<path d="M133.43 108.68L139.43 108.68L136.43 114.58Z" fill="#1e9fc6"/>
<path d="M139.69 110.88L145.69 110.88L142.69 116.78Z" fill="#1e9fc6"/>
<path d="M145.96 112.68L151.96 112.68L148.96 118.58Z" fill="#1e9fc6"/>
<path d="M152.22 114.28L158.22 114.28L155.22 120.18Z" fill="#1e9fc6"/>
<path d="M158.48 115.78L164.48 115.78L161.48 121.68Z" fill="#1e9fc6"/>
<path d="M164.75 117.28L170.75 117.28L167.75 123.18Z" fill="#1e9fc6"/>
<path d="M171.01 118.98L177.01 118.98L174.01 124.88Z" fill="#1e9fc6"/>
<path d="M177.28 120.38L183.28 120.38L180.28 126.28Z" fill="#1e9fc6"/>
<path d="M183.54 121.88L189.54 121.88L186.54 127.78Z" fill="#1e9fc6"/>
<path d="M189.8 123.38L195.8 123.38L192.8 129.28Z" fill="#1e9fc6"/>
<path d="M196.07 124.78L202.07 124.78L199.07 130.68Z" fill="#1e9fc6"/>
<path d="M202.33 126.18L208.33 126.18L205.33 132.08Z" fill="#1e9fc6"/>
<path d="M208.6 127.28L214.6 127.28L211.6 133.18Z" fill="#1e9fc6"/>
<path d="M214.86 128.28L220.86 128.28L217.86 134.18Z" fill="#1e9fc6"/>
<path d="M221.12 129.38L227.12 129.38L224.12 135.28Z" fill="#1e9fc6"/>
<path d="M227.39 130.38L233.39 130.38L230.39 136.28Z" fill="#1e9fc6"/>
<path d="M233.65 130.52L239.65 130.52L236.65 136.42Z" fill="#1e9fc6"/>
<path d="M239.92 131.32L245.92 131.32L242.92 137.22Z" fill="#1e9fc6"/>
<path d="M246.18 133.7L252.18 133.7L249.18 139.6Z" fill="#1e9fc6"/>
<path d="M252.44 135.3L258.44 135.3L255.44 141.2Z" fill="#1e9fc6"/>
<path d="M258.71 136.4L264.71 136.4L261.71 142.3Z" fill="#1e9fc6"/>
<path d="M264.97 137.2L270.97 137.2L267.97 143.1Z" fill="#1e9fc6"/>
<path d="M271.24 138.1L277.24 138.1L274.24 144Z" fill="#1e9fc6"/>
<path d="M277.5 139L283.5 139L280.5 144.9Z" fill="#1e9fc6"/>
<path d="M283.76 139.9L289.76 139.9L286.76 145.8Z" fill="#1e9fc6"/>
<path d="M290.03 140.9L296.03 140.9L293.03 146.8Z" fill="#1e9fc6"/>
<path d="M296.29 144.1L302.29 144.1L299.29 150Z" fill="#1e9fc6"/>
<path d="M302.56 149.4L308.56 149.4L305.56 155.3Z" fill="#1e9fc6"/>
<path d="M308.82 158.48L314.82 158.48L311.82 164.38Z" fill="#1e9fc6"/>
<path d="M315.08 165.99L321.08 165.99L318.08 171.89Z" fill="#1e9fc6"/>
<path d="M321.35 173.4L327.35 173.4L324.35 179.3Z" fill="#1e9fc6"/>
<path d="M327.61 182.49L333.61 182.49L330.61 188.39Z" fill="#1e9fc6"/>
<path d="M336.88 193.92V195.06" stroke="#1e9fc6" stroke-width="0.9" fill="none"/>
<path d="M333.88 191.58L339.88 191.58L336.88 197.48Z" fill="#1e9fc6"/>
<path d="M343.14 202.37V204.28" stroke="#1e9fc6" stroke-width="0.9" fill="none"/>
<path d="M340.14 200.4L346.14 200.4L343.14 206.3Z" fill="#1e9fc6"/>
<path d="M349.4 219V222.84" stroke="#1e9fc6" stroke-width="0.9" fill="none"/>
<path d="M346.4 217.92L352.4 217.92L349.4 223.82Z" fill="#1e9fc6"/>
<path d="M355.67 227.67V231.51" stroke="#1e9fc6" stroke-width="0.9" fill="none"/>
<path d="M352.67 226.59L358.67 226.59L355.67 232.49Z" fill="#1e9fc6"/>
<path d="M361.93 267.98V274.94" stroke="#1e9fc6" stroke-width="0.9" fill="none"/>
<path d="M358.93 268.25L364.93 268.25L361.93 274.15Z" fill="#1e9fc6"/>
</g>
<path d="M51.86 17.7L51.86 25.7M51.86 317.4L51.86 309.4M51.86 317.4L51.86 322.9M51.86 477.6L51.86 472.1M67.52 17.7L67.52 19.9M67.52 317.4L67.52 315.2M67.52 317.4L67.52 318.9M67.52 477.6L67.52 476.1M83.18 17.7L83.18 21.7M83.18 317.4L83.18 313.4M83.18 317.4L83.18 320M83.18 477.6L83.18 475M98.84 17.7L98.84 19.9M98.84 317.4L98.84 315.2M98.84 317.4L98.84 318.9M98.84 477.6L98.84 476.1M114.5 17.7L114.5 21.7M114.5 317.4L114.5 313.4M114.5 317.4L114.5 320M114.5 477.6L114.5 475M130.16 17.7L130.16 19.9M130.16 317.4L130.16 315.2M130.16 317.4L130.16 318.9M130.16 477.6L130.16 476.1M145.82 17.7L145.82 21.7M145.82 317.4L145.82 313.4M145.82 317.4L145.82 320M145.82 477.6L145.82 475M161.48 17.7L161.48 19.9M161.48 317.4L161.48 315.2M161.48 317.4L161.48 318.9M161.48 477.6L161.48 476.1M177.14 17.7L177.14 21.7M177.14 317.4L177.14 313.4M177.14 317.4L177.14 320M177.14 477.6L177.14 475M192.8 17.7L192.8 19.9M192.8 317.4L192.8 315.2M192.8 317.4L192.8 318.9M192.8 477.6L192.8 476.1M208.46 17.7L208.46 25.7M208.46 317.4L208.46 309.4M208.46 317.4L208.46 322.9M208.46 477.6L208.46 472.1M224.12 17.7L224.12 19.9M224.12 317.4L224.12 315.2M224.12 317.4L224.12 318.9M224.12 477.6L224.12 476.1M239.78 17.7L239.78 21.7M239.78 317.4L239.78 313.4M239.78 317.4L239.78 320M239.78 477.6L239.78 475M255.44 17.7L255.44 19.9M255.44 317.4L255.44 315.2M255.44 317.4L255.44 318.9M255.44 477.6L255.44 476.1M271.1 17.7L271.1 21.7M271.1 317.4L271.1 313.4M271.1 317.4L271.1 320M271.1 477.6L271.1 475M286.76 17.7L286.76 19.9M286.76 317.4L286.76 315.2M286.76 317.4L286.76 318.9M286.76 477.6L286.76 476.1M302.42 17.7L302.42 21.7M302.42 317.4L302.42 313.4M302.42 317.4L302.42 320M302.42 477.6L302.42 475M318.08 17.7L318.08 19.9M318.08 317.4L318.08 315.2M318.08 317.4L318.08 318.9M318.08 477.6L318.08 476.1M333.74 17.7L333.74 21.7M333.74 317.4L333.74 313.4M333.74 317.4L333.74 320M333.74 477.6L333.74 475M349.4 17.7L349.4 19.9M349.4 317.4L349.4 315.2M349.4 317.4L349.4 318.9M349.4 477.6L349.4 476.1M365.06 17.7L365.06 25.7M365.06 317.4L365.06 309.4M365.06 317.4L365.06 322.9M365.06 477.6L365.06 472.1M45.6 314.33L51.1 314.33M371.2 314.33L365.7 314.33M45.6 310.06L51.1 310.06M371.2 310.06L365.7 310.06M45.6 306.57L51.1 306.57M371.2 306.57L365.7 306.57M45.6 303.62L51.1 303.62M371.2 303.62L365.7 303.62M45.6 301.07L51.1 301.07M371.2 301.07L365.7 301.07M45.6 298.82L51.1 298.82M371.2 298.82L365.7 298.82M45.6 296.8L56.6 296.8M371.2 296.8L360.2 296.8M45.6 283.54L51.1 283.54M371.2 283.54L365.7 283.54M45.6 275.78L51.1 275.78M371.2 275.78L365.7 275.78M45.6 270.28L51.1 270.28M371.2 270.28L365.7 270.28M45.6 266.01L51.1 266.01M371.2 266.01L365.7 266.01M45.6 262.52L51.1 262.52M371.2 262.52L365.7 262.52M45.6 259.57L51.1 259.57M371.2 259.57L365.7 259.57M45.6 257.02L51.1 257.02M371.2 257.02L365.7 257.02M45.6 254.77L51.1 254.77M371.2 254.77L365.7 254.77M45.6 252.75L56.6 252.75M371.2 252.75L360.2 252.75M45.6 239.49L51.1 239.49M371.2 239.49L365.7 239.49M45.6 231.73L51.1 231.73M371.2 231.73L365.7 231.73M45.6 226.23L51.1 226.23M371.2 226.23L365.7 226.23M45.6 221.96L51.1 221.96M371.2 221.96L365.7 221.96M45.6 218.47L51.1 218.47M371.2 218.47L365.7 218.47M45.6 215.52L51.1 215.52M371.2 215.52L365.7 215.52M45.6 212.97L51.1 212.97M371.2 212.97L365.7 212.97M45.6 210.72L51.1 210.72M371.2 210.72L365.7 210.72M45.6 208.7L56.6 208.7M371.2 208.7L360.2 208.7M45.6 195.44L51.1 195.44M371.2 195.44L365.7 195.44M45.6 187.68L51.1 187.68M371.2 187.68L365.7 187.68M45.6 182.18L51.1 182.18M371.2 182.18L365.7 182.18M45.6 177.91L51.1 177.91M371.2 177.91L365.7 177.91M45.6 174.42L51.1 174.42M371.2 174.42L365.7 174.42M45.6 171.47L51.1 171.47M371.2 171.47L365.7 171.47M45.6 168.92L51.1 168.92M371.2 168.92L365.7 168.92M45.6 166.67L51.1 166.67M371.2 166.67L365.7 166.67M45.6 164.65L56.6 164.65M371.2 164.65L360.2 164.65M45.6 151.39L51.1 151.39M371.2 151.39L365.7 151.39M45.6 143.63L51.1 143.63M371.2 143.63L365.7 143.63M45.6 138.13L51.1 138.13M371.2 138.13L365.7 138.13M45.6 133.86L51.1 133.86M371.2 133.86L365.7 133.86M45.6 130.37L51.1 130.37M371.2 130.37L365.7 130.37M45.6 127.42L51.1 127.42M371.2 127.42L365.7 127.42M45.6 124.87L51.1 124.87M371.2 124.87L365.7 124.87M45.6 122.62L51.1 122.62M371.2 122.62L365.7 122.62M45.6 120.6L56.6 120.6M371.2 120.6L360.2 120.6M45.6 107.34L51.1 107.34M371.2 107.34L365.7 107.34M45.6 99.58L51.1 99.58M371.2 99.58L365.7 99.58M45.6 94.08L51.1 94.08M371.2 94.08L365.7 94.08M45.6 89.81L51.1 89.81M371.2 89.81L365.7 89.81M45.6 86.32L51.1 86.32M371.2 86.32L365.7 86.32M45.6 83.37L51.1 83.37M371.2 83.37L365.7 83.37M45.6 80.82L51.1 80.82M371.2 80.82L365.7 80.82M45.6 78.57L51.1 78.57M371.2 78.57L365.7 78.57M45.6 76.55L56.6 76.55M371.2 76.55L360.2 76.55M45.6 63.29L51.1 63.29M371.2 63.29L365.7 63.29M45.6 55.53L51.1 55.53M371.2 55.53L365.7 55.53M45.6 50.03L51.1 50.03M371.2 50.03L365.7 50.03M45.6 45.76L51.1 45.76M371.2 45.76L365.7 45.76M45.6 42.27L51.1 42.27M371.2 42.27L365.7 42.27M45.6 39.32L51.1 39.32M371.2 39.32L365.7 39.32M45.6 36.77L51.1 36.77M371.2 36.77L365.7 36.77M45.6 34.52L51.1 34.52M371.2 34.52L365.7 34.52M45.6 32.5L56.6 32.5M371.2 32.5L360.2 32.5M45.6 19.24L51.1 19.24M371.2 19.24L365.7 19.24M45.6 477.59L50.6 477.59M371.2 477.59L366.2 477.59M45.6 458.11L53.1 458.11M371.2 458.11L363.7 458.11M45.6 442.19L50.6 442.19M371.2 442.19L366.2 442.19M45.6 428.74L50.6 428.74M371.2 428.74L366.2 428.74M45.6 417.08L50.6 417.08M371.2 417.08L366.2 417.08M45.6 406.8L50.6 406.8M371.2 406.8L366.2 406.8M45.6 397.6L53.1 397.6M371.2 397.6L363.7 397.6M45.6 389.28L50.6 389.28M371.2 389.28L366.2 389.28M45.6 381.68L50.6 381.68M371.2 381.68L366.2 381.68M45.6 374.7L50.6 374.7M371.2 374.7L366.2 374.7M45.6 368.23L50.6 368.23M371.2 368.23L366.2 368.23M45.6 362.21L50.6 362.21M371.2 362.21L366.2 362.21M45.6 356.57L50.6 356.57M371.2 356.57L366.2 356.57M45.6 351.28L50.6 351.28M371.2 351.28L366.2 351.28M45.6 346.29L50.6 346.29M371.2 346.29L366.2 346.29M45.6 341.57L50.6 341.57M371.2 341.57L366.2 341.57M45.6 337.09L53.1 337.09M371.2 337.09L363.7 337.09M45.6 332.83L50.6 332.83M371.2 332.83L366.2 332.83M45.6 328.77L50.6 328.77M371.2 328.77L366.2 328.77M45.6 324.89L50.6 324.89M371.2 324.89L366.2 324.89M45.6 321.18L50.6 321.18M371.2 321.18L366.2 321.18M45.6 317.61L50.6 317.61M371.2 317.61L366.2 317.61" stroke="#000" stroke-width="1" fill="none"/>
<rect x="45.6" y="17.7" width="325.6" height="459.9" fill="none" stroke="#000" stroke-width="1.3"/>
<line x1="45.6" y1="317.4" x2="371.2" y2="317.4" stroke="#000" stroke-width="1.3"/>
<rect x="73.7" y="195.3" width="5.6" height="5.6" fill="#000"/>
<text x="94.2" y="201" font-size="9.5" fill="#000">ALEPH</text>
<line x1="64" y1="211" x2="88.5" y2="211" stroke="#b5651d" stroke-width="1.1" stroke-dasharray="2.4 2.2"/>
<circle cx="76.3" cy="211" r="2.7" fill="none" stroke="#b5651d" stroke-width="1.0"/>
<text x="94.2" y="213.9" font-size="9.5" fill="#000">Herwig++ 2.7.1 default</text>
<line x1="64" y1="223.9" x2="88.5" y2="223.9" stroke="#3da32a" stroke-width="1.1" stroke-dasharray="2.4 2.2"/>
<rect x="73.4" y="221" width="5.8" height="5.8" fill="none" stroke="#3da32a" stroke-width="1.0"/>
<text x="94.2" y="226.8" font-size="9.5" fill="#000">Herwig 7.0.1 default</text>
<line x1="64" y1="236.8" x2="88.5" y2="236.8" stroke="#0808ea" stroke-width="1.1"/>
<path d="M76.3 233.8L79.2 239.7L73.4 239.7Z" fill="#0808ea"/>
<text x="94.2" y="239.7" font-size="9.5" fill="#000">Pythia 8.308 default</text>
<line x1="64" y1="249.7" x2="88.5" y2="249.7" stroke="#1e9fc6" stroke-width="1.1" stroke-dasharray="3.6 1.8 0.9 1.6"/>
<path d="M73.3 246.8L79.3 246.8L76.3 252.7Z" fill="#1e9fc6"/>
<text x="94.2" y="252.6" font-size="9.5" fill="#000">Pythia 8.308 vincia-default</text>
<line x1="64" y1="262.6" x2="88.5" y2="262.6" stroke="#ff1a1a" stroke-width="1.1" stroke-dasharray="1.2 1.3"/>
<path d="M76.3 259.2L78.6 262.6L76.3 266L74 262.6Z" fill="#ff1a1a"/>
<text x="94.2" y="265.5" font-size="9.5" fill="#000">Sherpa 1.4.0 default</text>
<line x1="64" y1="275.5" x2="88.5" y2="275.5" stroke="#1e9fc6" stroke-width="1.1" stroke-dasharray="3.6 1.8 0.9 1.6"/>
<path d="M73.3 272.6L79.3 272.6L76.3 278.5Z" fill="#1e9fc6"/>
<text x="94.2" y="278.4" font-size="9.5" fill="#000">Vincia 2.3.01_8.243 default</text>
<text x="50.7" y="14.0" font-size="12.0">91 GeV ee</text>
<text x="366.6" y="13.8" font-size="12.0" text-anchor="end">γ*/Z (Hadronic)</text>
<text transform="translate(16.9,71.5) rotate(-90)" font-size="11.5">1/σ</text>
<text transform="translate(16.9,49.8) rotate(-90)" font-size="11.5">dσ/dC</text>
<text transform="translate(17.8,427.6) rotate(-90)" font-size="9.15">Ratio to ALEPH</text>
<text transform="translate(379.9,131.9) rotate(-90)" font-size="9.7" fill="#6e6e6e" textLength="114.2" lengthAdjust="spacing">Rivet 3.1.10, ≥ 400k events</text>
<text transform="translate(379.9,313.4) rotate(-90)" font-size="9.7" fill="#6e6e6e" textLength="141.6" lengthAdjust="spacing">mcplots.cern.ch [arXiv:1306.3436]</text>
<text x="164.6" y="301.6" font-size="7.4" fill="#999" textLength="87.2" lengthAdjust="spacing">ALEPH_2004_S5765862</text>
<text x="23" y="38" font-size="10.6">10</text>
<text x="35.2" y="32.7" font-size="8">2</text>
<text x="39.8" y="80.35" font-size="10.6" text-anchor="end">10</text>
<text x="39.8" y="124.4" font-size="10.6" text-anchor="end">1</text>
<text x="21" y="170.15" font-size="10.6">10</text>
<text x="32.6" y="164.85" font-size="8">−1</text>
<text x="19.1" y="214.2" font-size="10.6">10</text>
<text x="30.8" y="208.9" font-size="8">−2</text>
<text x="19.1" y="258.25" font-size="10.6">10</text>
<text x="30.8" y="252.95" font-size="8">−3</text>
<text x="18.9" y="302.3" font-size="10.6">10</text>
<text x="30.8" y="297" font-size="8">−4</text>
<text x="38.3" y="340.89" font-size="10.6" text-anchor="end">2</text>
<text x="373.8" y="340.89" font-size="10.6">2</text>
<text x="38.3" y="401.4" font-size="10.6" text-anchor="end">1</text>
<text x="373.8" y="401.4" font-size="10.6">1</text>
<text x="38.3" y="461.91" font-size="10.6" text-anchor="end">0.5</text>
<text x="373.8" y="461.91" font-size="10.6">0.5</text>
<text x="51.56" y="489.3" font-size="12" text-anchor="middle">0</text>
<text x="208.16" y="489.3" font-size="12" text-anchor="middle">0.5</text>
<text x="364.76" y="489.3" font-size="12" text-anchor="middle">1</text>
<text x="366.6" y="505.1" font-size="12.1" text-anchor="middle">C</text>
</svg></body></html>
